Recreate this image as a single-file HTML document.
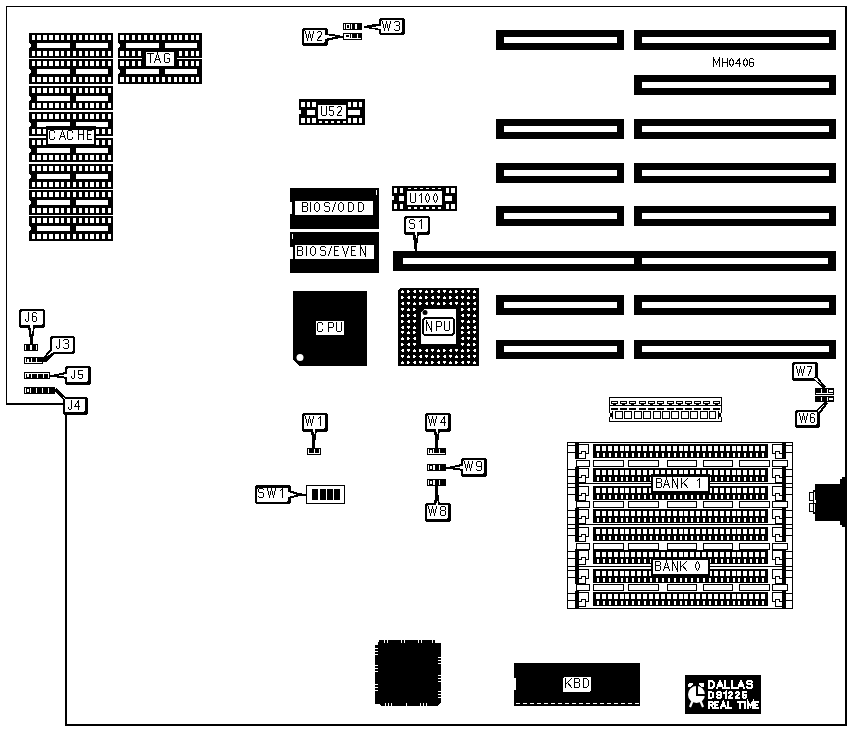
<!DOCTYPE html>
<html><head><meta charset="utf-8"><style>
html,body{margin:0;padding:0;background:#fff;}
svg{display:block;}
</style></head><body>
<svg width="851" height="731" viewBox="0 0 851 731" shape-rendering="crispEdges">
<rect x="0" y="0" width="851" height="731" fill="#fff"/>
<rect x="6" y="6" width="841" height="1" fill="#000"/>
<rect x="845" y="6" width="2" height="720" fill="#000"/>
<rect x="65" y="724" width="782" height="2" fill="#000"/>
<rect x="6" y="6" width="1" height="399" fill="#000"/>
<rect x="6" y="403" width="57" height="2" fill="#000"/>
<rect x="65" y="415" width="2" height="311" fill="#000"/>
<rect x="29" y="33" width="84" height="25" fill="#000"/>
<rect x="32" y="35" width="3" height="5" fill="#fff"/>
<rect x="32" y="51" width="3" height="5" fill="#fff"/>
<rect x="37" y="35" width="4" height="5" fill="#fff"/>
<rect x="37" y="51" width="4" height="5" fill="#fff"/>
<rect x="43" y="35" width="4" height="5" fill="#fff"/>
<rect x="43" y="51" width="4" height="5" fill="#fff"/>
<rect x="49" y="35" width="4" height="5" fill="#fff"/>
<rect x="49" y="51" width="4" height="5" fill="#fff"/>
<rect x="55" y="35" width="4" height="5" fill="#fff"/>
<rect x="55" y="51" width="4" height="5" fill="#fff"/>
<rect x="61" y="35" width="3" height="5" fill="#fff"/>
<rect x="61" y="51" width="3" height="5" fill="#fff"/>
<rect x="67" y="35" width="3" height="5" fill="#fff"/>
<rect x="67" y="51" width="3" height="5" fill="#fff"/>
<rect x="73" y="35" width="3" height="5" fill="#fff"/>
<rect x="73" y="51" width="3" height="5" fill="#fff"/>
<rect x="79" y="35" width="3" height="5" fill="#fff"/>
<rect x="79" y="51" width="3" height="5" fill="#fff"/>
<rect x="85" y="35" width="3" height="5" fill="#fff"/>
<rect x="85" y="51" width="3" height="5" fill="#fff"/>
<rect x="90" y="35" width="4" height="5" fill="#fff"/>
<rect x="90" y="51" width="4" height="5" fill="#fff"/>
<rect x="96" y="35" width="3" height="5" fill="#fff"/>
<rect x="96" y="51" width="3" height="5" fill="#fff"/>
<rect x="102" y="35" width="3" height="5" fill="#fff"/>
<rect x="102" y="51" width="3" height="5" fill="#fff"/>
<rect x="108" y="35" width="3" height="5" fill="#fff"/>
<rect x="108" y="51" width="3" height="5" fill="#fff"/>
<rect x="37" y="43" width="33" height="5" fill="#fff"/>
<rect x="76" y="43" width="32" height="5" fill="#fff"/>
<rect x="29" y="43" width="1" height="5" fill="#fff"/>
<rect x="30" y="44" width="1" height="3" fill="#fff"/>
<rect x="29" y="59" width="84" height="25" fill="#000"/>
<rect x="32" y="61" width="3" height="5" fill="#fff"/>
<rect x="32" y="77" width="3" height="5" fill="#fff"/>
<rect x="37" y="61" width="4" height="5" fill="#fff"/>
<rect x="37" y="77" width="4" height="5" fill="#fff"/>
<rect x="43" y="61" width="4" height="5" fill="#fff"/>
<rect x="43" y="77" width="4" height="5" fill="#fff"/>
<rect x="49" y="61" width="4" height="5" fill="#fff"/>
<rect x="49" y="77" width="4" height="5" fill="#fff"/>
<rect x="55" y="61" width="4" height="5" fill="#fff"/>
<rect x="55" y="77" width="4" height="5" fill="#fff"/>
<rect x="61" y="61" width="3" height="5" fill="#fff"/>
<rect x="61" y="77" width="3" height="5" fill="#fff"/>
<rect x="67" y="61" width="3" height="5" fill="#fff"/>
<rect x="67" y="77" width="3" height="5" fill="#fff"/>
<rect x="73" y="61" width="3" height="5" fill="#fff"/>
<rect x="73" y="77" width="3" height="5" fill="#fff"/>
<rect x="79" y="61" width="3" height="5" fill="#fff"/>
<rect x="79" y="77" width="3" height="5" fill="#fff"/>
<rect x="85" y="61" width="3" height="5" fill="#fff"/>
<rect x="85" y="77" width="3" height="5" fill="#fff"/>
<rect x="90" y="61" width="4" height="5" fill="#fff"/>
<rect x="90" y="77" width="4" height="5" fill="#fff"/>
<rect x="96" y="61" width="3" height="5" fill="#fff"/>
<rect x="96" y="77" width="3" height="5" fill="#fff"/>
<rect x="102" y="61" width="3" height="5" fill="#fff"/>
<rect x="102" y="77" width="3" height="5" fill="#fff"/>
<rect x="108" y="61" width="3" height="5" fill="#fff"/>
<rect x="108" y="77" width="3" height="5" fill="#fff"/>
<rect x="37" y="69" width="33" height="5" fill="#fff"/>
<rect x="76" y="69" width="32" height="5" fill="#fff"/>
<rect x="29" y="69" width="1" height="5" fill="#fff"/>
<rect x="30" y="70" width="1" height="3" fill="#fff"/>
<rect x="29" y="86" width="84" height="24" fill="#000"/>
<rect x="32" y="88" width="3" height="5" fill="#fff"/>
<rect x="32" y="103" width="3" height="5" fill="#fff"/>
<rect x="37" y="88" width="4" height="5" fill="#fff"/>
<rect x="37" y="103" width="4" height="5" fill="#fff"/>
<rect x="43" y="88" width="4" height="5" fill="#fff"/>
<rect x="43" y="103" width="4" height="5" fill="#fff"/>
<rect x="49" y="88" width="4" height="5" fill="#fff"/>
<rect x="49" y="103" width="4" height="5" fill="#fff"/>
<rect x="55" y="88" width="4" height="5" fill="#fff"/>
<rect x="55" y="103" width="4" height="5" fill="#fff"/>
<rect x="61" y="88" width="3" height="5" fill="#fff"/>
<rect x="61" y="103" width="3" height="5" fill="#fff"/>
<rect x="67" y="88" width="3" height="5" fill="#fff"/>
<rect x="67" y="103" width="3" height="5" fill="#fff"/>
<rect x="73" y="88" width="3" height="5" fill="#fff"/>
<rect x="73" y="103" width="3" height="5" fill="#fff"/>
<rect x="79" y="88" width="3" height="5" fill="#fff"/>
<rect x="79" y="103" width="3" height="5" fill="#fff"/>
<rect x="85" y="88" width="3" height="5" fill="#fff"/>
<rect x="85" y="103" width="3" height="5" fill="#fff"/>
<rect x="90" y="88" width="4" height="5" fill="#fff"/>
<rect x="90" y="103" width="4" height="5" fill="#fff"/>
<rect x="96" y="88" width="3" height="5" fill="#fff"/>
<rect x="96" y="103" width="3" height="5" fill="#fff"/>
<rect x="102" y="88" width="3" height="5" fill="#fff"/>
<rect x="102" y="103" width="3" height="5" fill="#fff"/>
<rect x="108" y="88" width="3" height="5" fill="#fff"/>
<rect x="108" y="103" width="3" height="5" fill="#fff"/>
<rect x="37" y="96" width="33" height="5" fill="#fff"/>
<rect x="76" y="96" width="32" height="5" fill="#fff"/>
<rect x="29" y="96" width="1" height="5" fill="#fff"/>
<rect x="30" y="97" width="1" height="3" fill="#fff"/>
<rect x="29" y="112" width="84" height="24" fill="#000"/>
<rect x="32" y="114" width="3" height="5" fill="#fff"/>
<rect x="32" y="129" width="3" height="5" fill="#fff"/>
<rect x="37" y="114" width="4" height="5" fill="#fff"/>
<rect x="37" y="129" width="4" height="5" fill="#fff"/>
<rect x="43" y="114" width="4" height="5" fill="#fff"/>
<rect x="43" y="129" width="4" height="5" fill="#fff"/>
<rect x="49" y="114" width="4" height="5" fill="#fff"/>
<rect x="49" y="129" width="4" height="5" fill="#fff"/>
<rect x="55" y="114" width="4" height="5" fill="#fff"/>
<rect x="55" y="129" width="4" height="5" fill="#fff"/>
<rect x="61" y="114" width="3" height="5" fill="#fff"/>
<rect x="61" y="129" width="3" height="5" fill="#fff"/>
<rect x="67" y="114" width="3" height="5" fill="#fff"/>
<rect x="67" y="129" width="3" height="5" fill="#fff"/>
<rect x="73" y="114" width="3" height="5" fill="#fff"/>
<rect x="73" y="129" width="3" height="5" fill="#fff"/>
<rect x="79" y="114" width="3" height="5" fill="#fff"/>
<rect x="79" y="129" width="3" height="5" fill="#fff"/>
<rect x="85" y="114" width="3" height="5" fill="#fff"/>
<rect x="85" y="129" width="3" height="5" fill="#fff"/>
<rect x="90" y="114" width="4" height="5" fill="#fff"/>
<rect x="90" y="129" width="4" height="5" fill="#fff"/>
<rect x="96" y="114" width="3" height="5" fill="#fff"/>
<rect x="96" y="129" width="3" height="5" fill="#fff"/>
<rect x="102" y="114" width="3" height="5" fill="#fff"/>
<rect x="102" y="129" width="3" height="5" fill="#fff"/>
<rect x="108" y="114" width="3" height="5" fill="#fff"/>
<rect x="108" y="129" width="3" height="5" fill="#fff"/>
<rect x="37" y="122" width="33" height="5" fill="#fff"/>
<rect x="76" y="122" width="32" height="5" fill="#fff"/>
<rect x="29" y="122" width="1" height="5" fill="#fff"/>
<rect x="30" y="123" width="1" height="3" fill="#fff"/>
<rect x="29" y="138" width="84" height="24" fill="#000"/>
<rect x="32" y="140" width="3" height="5" fill="#fff"/>
<rect x="32" y="155" width="3" height="5" fill="#fff"/>
<rect x="37" y="140" width="4" height="5" fill="#fff"/>
<rect x="37" y="155" width="4" height="5" fill="#fff"/>
<rect x="43" y="140" width="4" height="5" fill="#fff"/>
<rect x="43" y="155" width="4" height="5" fill="#fff"/>
<rect x="49" y="140" width="4" height="5" fill="#fff"/>
<rect x="49" y="155" width="4" height="5" fill="#fff"/>
<rect x="55" y="140" width="4" height="5" fill="#fff"/>
<rect x="55" y="155" width="4" height="5" fill="#fff"/>
<rect x="61" y="140" width="3" height="5" fill="#fff"/>
<rect x="61" y="155" width="3" height="5" fill="#fff"/>
<rect x="67" y="140" width="3" height="5" fill="#fff"/>
<rect x="67" y="155" width="3" height="5" fill="#fff"/>
<rect x="73" y="140" width="3" height="5" fill="#fff"/>
<rect x="73" y="155" width="3" height="5" fill="#fff"/>
<rect x="79" y="140" width="3" height="5" fill="#fff"/>
<rect x="79" y="155" width="3" height="5" fill="#fff"/>
<rect x="85" y="140" width="3" height="5" fill="#fff"/>
<rect x="85" y="155" width="3" height="5" fill="#fff"/>
<rect x="90" y="140" width="4" height="5" fill="#fff"/>
<rect x="90" y="155" width="4" height="5" fill="#fff"/>
<rect x="96" y="140" width="3" height="5" fill="#fff"/>
<rect x="96" y="155" width="3" height="5" fill="#fff"/>
<rect x="102" y="140" width="3" height="5" fill="#fff"/>
<rect x="102" y="155" width="3" height="5" fill="#fff"/>
<rect x="108" y="140" width="3" height="5" fill="#fff"/>
<rect x="108" y="155" width="3" height="5" fill="#fff"/>
<rect x="37" y="148" width="33" height="5" fill="#fff"/>
<rect x="76" y="148" width="32" height="5" fill="#fff"/>
<rect x="29" y="148" width="1" height="5" fill="#fff"/>
<rect x="30" y="149" width="1" height="3" fill="#fff"/>
<rect x="29" y="164" width="84" height="25" fill="#000"/>
<rect x="32" y="166" width="3" height="5" fill="#fff"/>
<rect x="32" y="182" width="3" height="5" fill="#fff"/>
<rect x="37" y="166" width="4" height="5" fill="#fff"/>
<rect x="37" y="182" width="4" height="5" fill="#fff"/>
<rect x="43" y="166" width="4" height="5" fill="#fff"/>
<rect x="43" y="182" width="4" height="5" fill="#fff"/>
<rect x="49" y="166" width="4" height="5" fill="#fff"/>
<rect x="49" y="182" width="4" height="5" fill="#fff"/>
<rect x="55" y="166" width="4" height="5" fill="#fff"/>
<rect x="55" y="182" width="4" height="5" fill="#fff"/>
<rect x="61" y="166" width="3" height="5" fill="#fff"/>
<rect x="61" y="182" width="3" height="5" fill="#fff"/>
<rect x="67" y="166" width="3" height="5" fill="#fff"/>
<rect x="67" y="182" width="3" height="5" fill="#fff"/>
<rect x="73" y="166" width="3" height="5" fill="#fff"/>
<rect x="73" y="182" width="3" height="5" fill="#fff"/>
<rect x="79" y="166" width="3" height="5" fill="#fff"/>
<rect x="79" y="182" width="3" height="5" fill="#fff"/>
<rect x="85" y="166" width="3" height="5" fill="#fff"/>
<rect x="85" y="182" width="3" height="5" fill="#fff"/>
<rect x="90" y="166" width="4" height="5" fill="#fff"/>
<rect x="90" y="182" width="4" height="5" fill="#fff"/>
<rect x="96" y="166" width="3" height="5" fill="#fff"/>
<rect x="96" y="182" width="3" height="5" fill="#fff"/>
<rect x="102" y="166" width="3" height="5" fill="#fff"/>
<rect x="102" y="182" width="3" height="5" fill="#fff"/>
<rect x="108" y="166" width="3" height="5" fill="#fff"/>
<rect x="108" y="182" width="3" height="5" fill="#fff"/>
<rect x="37" y="174" width="33" height="5" fill="#fff"/>
<rect x="76" y="174" width="32" height="5" fill="#fff"/>
<rect x="29" y="174" width="1" height="5" fill="#fff"/>
<rect x="30" y="175" width="1" height="3" fill="#fff"/>
<rect x="29" y="190" width="84" height="25" fill="#000"/>
<rect x="32" y="192" width="3" height="5" fill="#fff"/>
<rect x="32" y="208" width="3" height="5" fill="#fff"/>
<rect x="37" y="192" width="4" height="5" fill="#fff"/>
<rect x="37" y="208" width="4" height="5" fill="#fff"/>
<rect x="43" y="192" width="4" height="5" fill="#fff"/>
<rect x="43" y="208" width="4" height="5" fill="#fff"/>
<rect x="49" y="192" width="4" height="5" fill="#fff"/>
<rect x="49" y="208" width="4" height="5" fill="#fff"/>
<rect x="55" y="192" width="4" height="5" fill="#fff"/>
<rect x="55" y="208" width="4" height="5" fill="#fff"/>
<rect x="61" y="192" width="3" height="5" fill="#fff"/>
<rect x="61" y="208" width="3" height="5" fill="#fff"/>
<rect x="67" y="192" width="3" height="5" fill="#fff"/>
<rect x="67" y="208" width="3" height="5" fill="#fff"/>
<rect x="73" y="192" width="3" height="5" fill="#fff"/>
<rect x="73" y="208" width="3" height="5" fill="#fff"/>
<rect x="79" y="192" width="3" height="5" fill="#fff"/>
<rect x="79" y="208" width="3" height="5" fill="#fff"/>
<rect x="85" y="192" width="3" height="5" fill="#fff"/>
<rect x="85" y="208" width="3" height="5" fill="#fff"/>
<rect x="90" y="192" width="4" height="5" fill="#fff"/>
<rect x="90" y="208" width="4" height="5" fill="#fff"/>
<rect x="96" y="192" width="3" height="5" fill="#fff"/>
<rect x="96" y="208" width="3" height="5" fill="#fff"/>
<rect x="102" y="192" width="3" height="5" fill="#fff"/>
<rect x="102" y="208" width="3" height="5" fill="#fff"/>
<rect x="108" y="192" width="3" height="5" fill="#fff"/>
<rect x="108" y="208" width="3" height="5" fill="#fff"/>
<rect x="37" y="200" width="33" height="5" fill="#fff"/>
<rect x="76" y="200" width="32" height="5" fill="#fff"/>
<rect x="29" y="200" width="1" height="5" fill="#fff"/>
<rect x="30" y="201" width="1" height="3" fill="#fff"/>
<rect x="29" y="216" width="84" height="25" fill="#000"/>
<rect x="32" y="218" width="3" height="5" fill="#fff"/>
<rect x="32" y="234" width="3" height="5" fill="#fff"/>
<rect x="37" y="218" width="4" height="5" fill="#fff"/>
<rect x="37" y="234" width="4" height="5" fill="#fff"/>
<rect x="43" y="218" width="4" height="5" fill="#fff"/>
<rect x="43" y="234" width="4" height="5" fill="#fff"/>
<rect x="49" y="218" width="4" height="5" fill="#fff"/>
<rect x="49" y="234" width="4" height="5" fill="#fff"/>
<rect x="55" y="218" width="4" height="5" fill="#fff"/>
<rect x="55" y="234" width="4" height="5" fill="#fff"/>
<rect x="61" y="218" width="3" height="5" fill="#fff"/>
<rect x="61" y="234" width="3" height="5" fill="#fff"/>
<rect x="67" y="218" width="3" height="5" fill="#fff"/>
<rect x="67" y="234" width="3" height="5" fill="#fff"/>
<rect x="73" y="218" width="3" height="5" fill="#fff"/>
<rect x="73" y="234" width="3" height="5" fill="#fff"/>
<rect x="79" y="218" width="3" height="5" fill="#fff"/>
<rect x="79" y="234" width="3" height="5" fill="#fff"/>
<rect x="85" y="218" width="3" height="5" fill="#fff"/>
<rect x="85" y="234" width="3" height="5" fill="#fff"/>
<rect x="90" y="218" width="4" height="5" fill="#fff"/>
<rect x="90" y="234" width="4" height="5" fill="#fff"/>
<rect x="96" y="218" width="3" height="5" fill="#fff"/>
<rect x="96" y="234" width="3" height="5" fill="#fff"/>
<rect x="102" y="218" width="3" height="5" fill="#fff"/>
<rect x="102" y="234" width="3" height="5" fill="#fff"/>
<rect x="108" y="218" width="3" height="5" fill="#fff"/>
<rect x="108" y="234" width="3" height="5" fill="#fff"/>
<rect x="37" y="226" width="33" height="5" fill="#fff"/>
<rect x="76" y="226" width="32" height="5" fill="#fff"/>
<rect x="29" y="226" width="1" height="5" fill="#fff"/>
<rect x="30" y="227" width="1" height="3" fill="#fff"/>
<rect x="118" y="33" width="84" height="25" fill="#000"/>
<rect x="120" y="35" width="4" height="5" fill="#fff"/>
<rect x="120" y="51" width="4" height="5" fill="#fff"/>
<rect x="126" y="35" width="3" height="5" fill="#fff"/>
<rect x="126" y="51" width="3" height="5" fill="#fff"/>
<rect x="132" y="35" width="3" height="5" fill="#fff"/>
<rect x="132" y="51" width="3" height="5" fill="#fff"/>
<rect x="138" y="35" width="3" height="5" fill="#fff"/>
<rect x="138" y="51" width="3" height="5" fill="#fff"/>
<rect x="144" y="35" width="3" height="5" fill="#fff"/>
<rect x="144" y="51" width="3" height="5" fill="#fff"/>
<rect x="150" y="35" width="3" height="5" fill="#fff"/>
<rect x="150" y="51" width="3" height="5" fill="#fff"/>
<rect x="156" y="35" width="3" height="5" fill="#fff"/>
<rect x="156" y="51" width="3" height="5" fill="#fff"/>
<rect x="162" y="35" width="3" height="5" fill="#fff"/>
<rect x="162" y="51" width="3" height="5" fill="#fff"/>
<rect x="168" y="35" width="3" height="5" fill="#fff"/>
<rect x="168" y="51" width="3" height="5" fill="#fff"/>
<rect x="174" y="35" width="3" height="5" fill="#fff"/>
<rect x="174" y="51" width="3" height="5" fill="#fff"/>
<rect x="179" y="35" width="3" height="5" fill="#fff"/>
<rect x="179" y="51" width="3" height="5" fill="#fff"/>
<rect x="185" y="35" width="3" height="5" fill="#fff"/>
<rect x="185" y="51" width="3" height="5" fill="#fff"/>
<rect x="191" y="35" width="3" height="5" fill="#fff"/>
<rect x="191" y="51" width="3" height="5" fill="#fff"/>
<rect x="196" y="35" width="3" height="5" fill="#fff"/>
<rect x="196" y="51" width="3" height="5" fill="#fff"/>
<rect x="126" y="43" width="33" height="5" fill="#fff"/>
<rect x="165" y="43" width="32" height="5" fill="#fff"/>
<rect x="118" y="43" width="1" height="5" fill="#fff"/>
<rect x="119" y="44" width="1" height="3" fill="#fff"/>
<rect x="118" y="59" width="84" height="25" fill="#000"/>
<rect x="120" y="61" width="4" height="5" fill="#fff"/>
<rect x="120" y="77" width="4" height="5" fill="#fff"/>
<rect x="126" y="61" width="3" height="5" fill="#fff"/>
<rect x="126" y="77" width="3" height="5" fill="#fff"/>
<rect x="132" y="61" width="3" height="5" fill="#fff"/>
<rect x="132" y="77" width="3" height="5" fill="#fff"/>
<rect x="138" y="61" width="3" height="5" fill="#fff"/>
<rect x="138" y="77" width="3" height="5" fill="#fff"/>
<rect x="144" y="61" width="3" height="5" fill="#fff"/>
<rect x="144" y="77" width="3" height="5" fill="#fff"/>
<rect x="150" y="61" width="3" height="5" fill="#fff"/>
<rect x="150" y="77" width="3" height="5" fill="#fff"/>
<rect x="156" y="61" width="3" height="5" fill="#fff"/>
<rect x="156" y="77" width="3" height="5" fill="#fff"/>
<rect x="162" y="61" width="3" height="5" fill="#fff"/>
<rect x="162" y="77" width="3" height="5" fill="#fff"/>
<rect x="168" y="61" width="3" height="5" fill="#fff"/>
<rect x="168" y="77" width="3" height="5" fill="#fff"/>
<rect x="174" y="61" width="3" height="5" fill="#fff"/>
<rect x="174" y="77" width="3" height="5" fill="#fff"/>
<rect x="179" y="61" width="3" height="5" fill="#fff"/>
<rect x="179" y="77" width="3" height="5" fill="#fff"/>
<rect x="185" y="61" width="3" height="5" fill="#fff"/>
<rect x="185" y="77" width="3" height="5" fill="#fff"/>
<rect x="191" y="61" width="3" height="5" fill="#fff"/>
<rect x="191" y="77" width="3" height="5" fill="#fff"/>
<rect x="196" y="61" width="3" height="5" fill="#fff"/>
<rect x="196" y="77" width="3" height="5" fill="#fff"/>
<rect x="126" y="69" width="33" height="5" fill="#fff"/>
<rect x="165" y="69" width="32" height="5" fill="#fff"/>
<rect x="118" y="69" width="1" height="5" fill="#fff"/>
<rect x="119" y="70" width="1" height="3" fill="#fff"/>
<rect x="142" y="50" width="35" height="18" fill="#000"/>
<rect x="146" y="52" width="28" height="14" fill="#fff"/>
<path d="M147.50,53.50 H153.50 M150.50,53.50 V62.50 M154.50,62.50 L157.50,53.50 L160.50,62.50 M155.50,59.50 H159.50 M169.50,54.50 L168.50,53.50 H165.50 L164.50,54.50 V61.50 L165.50,62.50 H168.50 L169.50,61.50 V58.50 H167.50" fill="none" stroke="#000" stroke-width="1" stroke-linecap="square" stroke-linejoin="miter"/>
<rect x="46" y="126" width="50" height="21" fill="#000"/>
<rect x="48" y="130" width="46" height="14" fill="#fff"/>
<path d="M54.50,132.50 V131.50 L53.50,130.50 H50.50 L49.50,131.50 V138.50 L50.50,139.50 H53.50 L54.50,138.50 V137.50 M59.50,139.50 L62.50,130.50 L65.50,139.50 M60.50,136.50 H64.50 M72.50,132.50 V131.50 L71.50,130.50 H68.50 L67.50,131.50 V138.50 L68.50,139.50 H71.50 L72.50,138.50 V137.50 M78.50,130.50 V139.50 M83.50,130.50 V139.50 M78.50,134.50 H83.50 M91.50,130.50 H87.50 V139.50 H91.50 M87.50,134.50 H90.50" fill="none" stroke="#000" stroke-width="1" stroke-linecap="square" stroke-linejoin="miter"/>
<rect x="299" y="99" width="66" height="26" fill="#000"/>
<rect x="301" y="102" width="4" height="5" fill="#fff"/>
<rect x="301" y="118" width="4" height="5" fill="#fff"/>
<rect x="307" y="102" width="3" height="5" fill="#fff"/>
<rect x="307" y="118" width="3" height="5" fill="#fff"/>
<rect x="312" y="102" width="4" height="5" fill="#fff"/>
<rect x="312" y="118" width="4" height="5" fill="#fff"/>
<rect x="348" y="102" width="3" height="5" fill="#fff"/>
<rect x="348" y="118" width="3" height="5" fill="#fff"/>
<rect x="353" y="102" width="4" height="5" fill="#fff"/>
<rect x="353" y="118" width="4" height="5" fill="#fff"/>
<rect x="359" y="102" width="3" height="5" fill="#fff"/>
<rect x="359" y="118" width="3" height="5" fill="#fff"/>
<rect x="307" y="110" width="8" height="5" fill="#fff"/>
<rect x="348" y="110" width="12" height="5" fill="#fff"/>
<rect x="299" y="110" width="2" height="4" fill="#fff"/>
<rect x="318" y="105" width="28" height="14" fill="#fff"/>
<rect x="319" y="121" width="3" height="2" fill="#fff"/>
<rect x="325" y="121" width="3" height="2" fill="#fff"/>
<rect x="331" y="121" width="3" height="2" fill="#fff"/>
<rect x="337" y="121" width="3" height="2" fill="#fff"/>
<rect x="343" y="121" width="3" height="2" fill="#fff"/>
<path d="M321.50,106.50 V114.50 L322.50,115.50 H325.50 L326.50,114.50 V106.50 M333.50,106.50 H329.50 V110.50 H332.50 L333.50,111.50 V114.50 L332.50,115.50 H330.50 L329.50,114.50 M337.50,107.50 L338.50,106.50 H340.50 L341.50,107.50 V109.50 L337.50,114.50 V115.50 H341.50" fill="none" stroke="#000" stroke-width="1" stroke-linecap="square" stroke-linejoin="miter"/>
<rect x="392" y="186" width="65" height="25" fill="#000"/>
<rect x="394" y="188" width="3" height="5" fill="#fff"/>
<rect x="394" y="204" width="3" height="5" fill="#fff"/>
<rect x="400" y="188" width="3" height="5" fill="#fff"/>
<rect x="400" y="204" width="3" height="5" fill="#fff"/>
<rect x="446" y="188" width="3" height="5" fill="#fff"/>
<rect x="446" y="204" width="3" height="5" fill="#fff"/>
<rect x="451" y="188" width="4" height="5" fill="#fff"/>
<rect x="451" y="204" width="4" height="5" fill="#fff"/>
<rect x="399" y="196" width="5" height="5" fill="#fff"/>
<rect x="445" y="196" width="7" height="5" fill="#fff"/>
<rect x="392" y="196" width="2" height="4" fill="#fff"/>
<rect x="407" y="191" width="35" height="14" fill="#fff"/>
<rect x="408" y="207" width="3" height="2" fill="#fff"/>
<rect x="414" y="207" width="3" height="2" fill="#fff"/>
<rect x="420" y="207" width="3" height="2" fill="#fff"/>
<rect x="426" y="207" width="3" height="2" fill="#fff"/>
<rect x="432" y="207" width="3" height="2" fill="#fff"/>
<rect x="438" y="207" width="3" height="2" fill="#fff"/>
<rect x="408" y="188" width="3" height="1" fill="#fff"/>
<rect x="414" y="188" width="3" height="1" fill="#fff"/>
<rect x="420" y="188" width="3" height="1" fill="#fff"/>
<rect x="426" y="188" width="3" height="1" fill="#fff"/>
<rect x="432" y="188" width="3" height="1" fill="#fff"/>
<rect x="438" y="188" width="3" height="1" fill="#fff"/>
<path d="M410.50,193.50 V201.50 L411.50,202.50 H414.50 L415.50,201.50 V193.50 M419.50,195.50 L421.50,193.50 V202.50 M427.50,193.50 L429.50,196.50 V199.50 L427.50,202.50 L425.50,199.50 V196.50 Z M435.50,193.50 L437.50,196.50 V199.50 L435.50,202.50 L433.50,199.50 V196.50 Z" fill="none" stroke="#000" stroke-width="1" stroke-linecap="square" stroke-linejoin="miter"/>
<rect x="290" y="188" width="89" height="41" fill="#000"/>
<rect x="295" y="201" width="78" height="14" fill="#fff"/>
<rect x="290" y="202" width="2" height="12" fill="#fff"/>
<rect x="376" y="190" width="1" height="5" fill="#fff"/>
<path d="M302.50,202.50 H306.50 L307.50,203.50 V205.50 L306.50,206.50 H302.50 M306.50,206.50 L307.50,207.50 V210.50 L306.50,211.50 H302.50 V202.50 M310.50,202.50 V211.50 M316.50,202.50 H317.50 L319.50,204.50 V209.50 L317.50,211.50 H316.50 L314.50,209.50 V204.50 Z M329.50,203.50 L328.50,202.50 H325.50 L324.50,203.50 V205.50 L325.50,206.50 H328.50 L329.50,207.50 V210.50 L328.50,211.50 H325.50 L324.50,210.50 M332.50,211.50 L335.50,202.50 M340.50,202.50 H341.50 L343.50,204.50 V209.50 L341.50,211.50 H340.50 L338.50,209.50 V204.50 Z M348.50,202.50 H351.50 L353.50,204.50 V209.50 L351.50,211.50 H348.50 Z M358.50,202.50 H361.50 L363.50,204.50 V209.50 L361.50,211.50 H358.50 Z" fill="none" stroke="#000" stroke-width="1" stroke-linecap="square" stroke-linejoin="miter"/>
<rect x="290" y="232" width="89" height="41" fill="#000"/>
<rect x="295" y="245" width="79" height="14" fill="#fff"/>
<rect x="290" y="247" width="3" height="12" fill="#fff"/>
<rect x="292" y="234" width="1" height="5" fill="#fff"/>
<path d="M297.50,246.50 H301.50 L302.50,247.50 V249.50 L301.50,250.50 H297.50 M301.50,250.50 L302.50,251.50 V254.50 L301.50,255.50 H297.50 V246.50 M306.50,246.50 V255.50 M312.50,246.50 H313.50 L315.50,248.50 V253.50 L313.50,255.50 H312.50 L310.50,253.50 V248.50 Z M325.50,247.50 L324.50,246.50 H321.50 L320.50,247.50 V249.50 L321.50,250.50 H324.50 L325.50,251.50 V254.50 L324.50,255.50 H321.50 L320.50,254.50 M328.50,255.50 L331.50,246.50 M338.50,246.50 H334.50 V255.50 H338.50 M334.50,250.50 H337.50 M342.50,246.50 L345.50,255.50 L348.50,246.50 M355.50,246.50 H351.50 V255.50 H355.50 M351.50,250.50 H354.50 M360.50,255.50 V246.50 L365.50,255.50 V246.50" fill="none" stroke="#000" stroke-width="1" stroke-linecap="square" stroke-linejoin="miter"/>
<rect x="496" y="30" width="128" height="20" fill="#000"/>
<rect x="504" y="37" width="113" height="6" fill="#fff"/>
<rect x="496" y="119" width="128" height="20" fill="#000"/>
<rect x="504" y="126" width="113" height="6" fill="#fff"/>
<rect x="496" y="163" width="128" height="20" fill="#000"/>
<rect x="504" y="170" width="113" height="6" fill="#fff"/>
<rect x="496" y="206" width="128" height="20" fill="#000"/>
<rect x="504" y="213" width="113" height="6" fill="#fff"/>
<rect x="496" y="295" width="128" height="20" fill="#000"/>
<rect x="504" y="302" width="113" height="6" fill="#fff"/>
<rect x="496" y="340" width="128" height="19" fill="#000"/>
<rect x="504" y="346" width="113" height="6" fill="#fff"/>
<rect x="634" y="30" width="202" height="20" fill="#000"/>
<rect x="642" y="37" width="187" height="6" fill="#fff"/>
<rect x="634" y="75" width="202" height="20" fill="#000"/>
<rect x="642" y="82" width="187" height="6" fill="#fff"/>
<rect x="634" y="119" width="202" height="20" fill="#000"/>
<rect x="642" y="126" width="187" height="6" fill="#fff"/>
<rect x="634" y="163" width="202" height="20" fill="#000"/>
<rect x="642" y="170" width="187" height="6" fill="#fff"/>
<rect x="634" y="206" width="202" height="20" fill="#000"/>
<rect x="642" y="213" width="187" height="6" fill="#fff"/>
<rect x="634" y="295" width="202" height="20" fill="#000"/>
<rect x="642" y="302" width="187" height="6" fill="#fff"/>
<rect x="634" y="340" width="202" height="19" fill="#000"/>
<rect x="642" y="346" width="187" height="6" fill="#fff"/>
<rect x="393" y="251" width="443" height="20" fill="#000"/>
<rect x="403" y="258" width="231" height="6" fill="#fff"/>
<rect x="642" y="258" width="186" height="6" fill="#fff"/>
<path d="M713.50,66.50 V58.50 L716.50,63.83 L719.50,58.50 V66.50 M722.50,58.50 V66.50 M727.50,58.50 V66.50 M722.50,62.06 H727.50 M731.50,58.50 L733.50,61.17 V63.83 L731.50,66.50 L729.50,63.83 V61.17 Z M739.50,66.50 V58.50 L735.50,63.83 H740.50 M745.50,58.50 L747.50,61.17 V63.83 L745.50,66.50 L743.50,63.83 V61.17 Z M753.50,59.39 L752.50,58.50 H750.50 L749.50,59.39 V65.61 L750.50,66.50 H752.50 L753.50,65.61 V62.94 L752.50,62.06 H749.50" fill="none" stroke="#000" stroke-width="1" stroke-linecap="square" stroke-linejoin="miter"/>
<path d="M293,291 H367 V366 H299 L293,360 Z" fill="#000" />
<circle cx="300" cy="357.5" r="3.5" fill="#fff" shape-rendering="auto"/>
<rect x="316" y="321" width="28" height="14" fill="#fff"/>
<path d="M322.50,324.50 V323.50 L321.50,322.50 H318.50 L317.50,323.50 V330.50 L318.50,331.50 H321.50 L322.50,330.50 V329.50 M328.50,331.50 V322.50 H332.50 L333.50,323.50 V326.50 L332.50,327.50 H328.50 M336.50,322.50 V330.50 L337.50,331.50 H340.50 L341.50,330.50 V322.50" fill="none" stroke="#000" stroke-width="1" stroke-linecap="square" stroke-linejoin="miter"/>
<path d="M400,288 H479 V366 H398 V290 Z" fill="#000" />
<rect x="401" y="290" width="3" height="3" fill="#fff"/>
<rect x="401" y="290" width="1" height="1" fill="#000"/>
<rect x="403" y="290" width="1" height="1" fill="#000"/>
<rect x="401" y="296" width="3" height="3" fill="#fff"/>
<rect x="403" y="296" width="1" height="1" fill="#000"/>
<rect x="403" y="298" width="1" height="1" fill="#000"/>
<rect x="401" y="302" width="3" height="3" fill="#fff"/>
<rect x="401" y="302" width="1" height="1" fill="#000"/>
<rect x="401" y="304" width="1" height="1" fill="#000"/>
<rect x="401" y="308" width="3" height="3" fill="#fff"/>
<rect x="401" y="310" width="1" height="1" fill="#000"/>
<rect x="403" y="310" width="1" height="1" fill="#000"/>
<rect x="401" y="314" width="3" height="3" fill="#fff"/>
<rect x="401" y="314" width="1" height="1" fill="#000"/>
<rect x="403" y="314" width="1" height="1" fill="#000"/>
<rect x="401" y="320" width="3" height="3" fill="#fff"/>
<rect x="403" y="320" width="1" height="1" fill="#000"/>
<rect x="403" y="322" width="1" height="1" fill="#000"/>
<rect x="401" y="326" width="3" height="3" fill="#fff"/>
<rect x="401" y="326" width="1" height="1" fill="#000"/>
<rect x="401" y="328" width="1" height="1" fill="#000"/>
<rect x="401" y="331" width="3" height="3" fill="#fff"/>
<rect x="401" y="333" width="1" height="1" fill="#000"/>
<rect x="403" y="333" width="1" height="1" fill="#000"/>
<rect x="401" y="337" width="3" height="3" fill="#fff"/>
<rect x="401" y="337" width="1" height="1" fill="#000"/>
<rect x="403" y="337" width="1" height="1" fill="#000"/>
<rect x="401" y="343" width="3" height="3" fill="#fff"/>
<rect x="403" y="343" width="1" height="1" fill="#000"/>
<rect x="403" y="345" width="1" height="1" fill="#000"/>
<rect x="401" y="349" width="3" height="3" fill="#fff"/>
<rect x="401" y="349" width="1" height="1" fill="#000"/>
<rect x="401" y="351" width="1" height="1" fill="#000"/>
<rect x="401" y="355" width="3" height="3" fill="#fff"/>
<rect x="401" y="357" width="1" height="1" fill="#000"/>
<rect x="403" y="357" width="1" height="1" fill="#000"/>
<rect x="401" y="361" width="3" height="3" fill="#fff"/>
<rect x="401" y="361" width="1" height="1" fill="#000"/>
<rect x="403" y="361" width="1" height="1" fill="#000"/>
<rect x="407" y="290" width="3" height="3" fill="#fff"/>
<rect x="409" y="290" width="1" height="1" fill="#000"/>
<rect x="409" y="292" width="1" height="1" fill="#000"/>
<rect x="407" y="296" width="3" height="3" fill="#fff"/>
<rect x="407" y="296" width="1" height="1" fill="#000"/>
<rect x="407" y="298" width="1" height="1" fill="#000"/>
<rect x="407" y="302" width="3" height="3" fill="#fff"/>
<rect x="407" y="304" width="1" height="1" fill="#000"/>
<rect x="409" y="304" width="1" height="1" fill="#000"/>
<rect x="407" y="308" width="3" height="3" fill="#fff"/>
<rect x="407" y="308" width="1" height="1" fill="#000"/>
<rect x="409" y="308" width="1" height="1" fill="#000"/>
<rect x="407" y="314" width="3" height="3" fill="#fff"/>
<rect x="409" y="314" width="1" height="1" fill="#000"/>
<rect x="409" y="316" width="1" height="1" fill="#000"/>
<rect x="407" y="320" width="3" height="3" fill="#fff"/>
<rect x="407" y="320" width="1" height="1" fill="#000"/>
<rect x="407" y="322" width="1" height="1" fill="#000"/>
<rect x="407" y="326" width="3" height="3" fill="#fff"/>
<rect x="407" y="328" width="1" height="1" fill="#000"/>
<rect x="409" y="328" width="1" height="1" fill="#000"/>
<rect x="407" y="331" width="3" height="3" fill="#fff"/>
<rect x="407" y="331" width="1" height="1" fill="#000"/>
<rect x="409" y="331" width="1" height="1" fill="#000"/>
<rect x="407" y="337" width="3" height="3" fill="#fff"/>
<rect x="409" y="337" width="1" height="1" fill="#000"/>
<rect x="409" y="339" width="1" height="1" fill="#000"/>
<rect x="407" y="343" width="3" height="3" fill="#fff"/>
<rect x="407" y="343" width="1" height="1" fill="#000"/>
<rect x="407" y="345" width="1" height="1" fill="#000"/>
<rect x="407" y="349" width="3" height="3" fill="#fff"/>
<rect x="407" y="351" width="1" height="1" fill="#000"/>
<rect x="409" y="351" width="1" height="1" fill="#000"/>
<rect x="407" y="355" width="3" height="3" fill="#fff"/>
<rect x="407" y="355" width="1" height="1" fill="#000"/>
<rect x="409" y="355" width="1" height="1" fill="#000"/>
<rect x="407" y="361" width="3" height="3" fill="#fff"/>
<rect x="409" y="361" width="1" height="1" fill="#000"/>
<rect x="409" y="363" width="1" height="1" fill="#000"/>
<rect x="413" y="290" width="3" height="3" fill="#fff"/>
<rect x="413" y="290" width="1" height="1" fill="#000"/>
<rect x="413" y="292" width="1" height="1" fill="#000"/>
<rect x="413" y="296" width="3" height="3" fill="#fff"/>
<rect x="413" y="298" width="1" height="1" fill="#000"/>
<rect x="415" y="298" width="1" height="1" fill="#000"/>
<rect x="413" y="302" width="3" height="3" fill="#fff"/>
<rect x="413" y="302" width="1" height="1" fill="#000"/>
<rect x="415" y="302" width="1" height="1" fill="#000"/>
<rect x="413" y="308" width="3" height="3" fill="#fff"/>
<rect x="415" y="308" width="1" height="1" fill="#000"/>
<rect x="415" y="310" width="1" height="1" fill="#000"/>
<rect x="413" y="314" width="3" height="3" fill="#fff"/>
<rect x="413" y="314" width="1" height="1" fill="#000"/>
<rect x="413" y="316" width="1" height="1" fill="#000"/>
<rect x="413" y="320" width="3" height="3" fill="#fff"/>
<rect x="413" y="322" width="1" height="1" fill="#000"/>
<rect x="415" y="322" width="1" height="1" fill="#000"/>
<rect x="413" y="326" width="3" height="3" fill="#fff"/>
<rect x="413" y="326" width="1" height="1" fill="#000"/>
<rect x="415" y="326" width="1" height="1" fill="#000"/>
<rect x="413" y="331" width="3" height="3" fill="#fff"/>
<rect x="415" y="331" width="1" height="1" fill="#000"/>
<rect x="415" y="333" width="1" height="1" fill="#000"/>
<rect x="413" y="337" width="3" height="3" fill="#fff"/>
<rect x="413" y="337" width="1" height="1" fill="#000"/>
<rect x="413" y="339" width="1" height="1" fill="#000"/>
<rect x="413" y="343" width="3" height="3" fill="#fff"/>
<rect x="413" y="345" width="1" height="1" fill="#000"/>
<rect x="415" y="345" width="1" height="1" fill="#000"/>
<rect x="413" y="349" width="3" height="3" fill="#fff"/>
<rect x="413" y="349" width="1" height="1" fill="#000"/>
<rect x="415" y="349" width="1" height="1" fill="#000"/>
<rect x="413" y="355" width="3" height="3" fill="#fff"/>
<rect x="415" y="355" width="1" height="1" fill="#000"/>
<rect x="415" y="357" width="1" height="1" fill="#000"/>
<rect x="413" y="361" width="3" height="3" fill="#fff"/>
<rect x="413" y="361" width="1" height="1" fill="#000"/>
<rect x="413" y="363" width="1" height="1" fill="#000"/>
<rect x="419" y="290" width="3" height="3" fill="#fff"/>
<rect x="419" y="292" width="1" height="1" fill="#000"/>
<rect x="421" y="292" width="1" height="1" fill="#000"/>
<rect x="419" y="296" width="3" height="3" fill="#fff"/>
<rect x="419" y="296" width="1" height="1" fill="#000"/>
<rect x="421" y="296" width="1" height="1" fill="#000"/>
<rect x="419" y="302" width="3" height="3" fill="#fff"/>
<rect x="421" y="302" width="1" height="1" fill="#000"/>
<rect x="421" y="304" width="1" height="1" fill="#000"/>
<rect x="419" y="349" width="3" height="3" fill="#fff"/>
<rect x="421" y="349" width="1" height="1" fill="#000"/>
<rect x="421" y="351" width="1" height="1" fill="#000"/>
<rect x="419" y="355" width="3" height="3" fill="#fff"/>
<rect x="419" y="355" width="1" height="1" fill="#000"/>
<rect x="419" y="357" width="1" height="1" fill="#000"/>
<rect x="419" y="361" width="3" height="3" fill="#fff"/>
<rect x="419" y="363" width="1" height="1" fill="#000"/>
<rect x="421" y="363" width="1" height="1" fill="#000"/>
<rect x="425" y="290" width="3" height="3" fill="#fff"/>
<rect x="425" y="290" width="1" height="1" fill="#000"/>
<rect x="427" y="290" width="1" height="1" fill="#000"/>
<rect x="425" y="296" width="3" height="3" fill="#fff"/>
<rect x="427" y="296" width="1" height="1" fill="#000"/>
<rect x="427" y="298" width="1" height="1" fill="#000"/>
<rect x="425" y="302" width="3" height="3" fill="#fff"/>
<rect x="425" y="302" width="1" height="1" fill="#000"/>
<rect x="425" y="304" width="1" height="1" fill="#000"/>
<rect x="425" y="349" width="3" height="3" fill="#fff"/>
<rect x="425" y="349" width="1" height="1" fill="#000"/>
<rect x="425" y="351" width="1" height="1" fill="#000"/>
<rect x="425" y="355" width="3" height="3" fill="#fff"/>
<rect x="425" y="357" width="1" height="1" fill="#000"/>
<rect x="427" y="357" width="1" height="1" fill="#000"/>
<rect x="425" y="361" width="3" height="3" fill="#fff"/>
<rect x="425" y="361" width="1" height="1" fill="#000"/>
<rect x="427" y="361" width="1" height="1" fill="#000"/>
<rect x="431" y="290" width="3" height="3" fill="#fff"/>
<rect x="433" y="290" width="1" height="1" fill="#000"/>
<rect x="433" y="292" width="1" height="1" fill="#000"/>
<rect x="431" y="296" width="3" height="3" fill="#fff"/>
<rect x="431" y="296" width="1" height="1" fill="#000"/>
<rect x="431" y="298" width="1" height="1" fill="#000"/>
<rect x="431" y="302" width="3" height="3" fill="#fff"/>
<rect x="431" y="304" width="1" height="1" fill="#000"/>
<rect x="433" y="304" width="1" height="1" fill="#000"/>
<rect x="431" y="349" width="3" height="3" fill="#fff"/>
<rect x="431" y="351" width="1" height="1" fill="#000"/>
<rect x="433" y="351" width="1" height="1" fill="#000"/>
<rect x="431" y="355" width="3" height="3" fill="#fff"/>
<rect x="431" y="355" width="1" height="1" fill="#000"/>
<rect x="433" y="355" width="1" height="1" fill="#000"/>
<rect x="431" y="361" width="3" height="3" fill="#fff"/>
<rect x="433" y="361" width="1" height="1" fill="#000"/>
<rect x="433" y="363" width="1" height="1" fill="#000"/>
<rect x="437" y="290" width="3" height="3" fill="#fff"/>
<rect x="437" y="290" width="1" height="1" fill="#000"/>
<rect x="437" y="292" width="1" height="1" fill="#000"/>
<rect x="437" y="296" width="3" height="3" fill="#fff"/>
<rect x="437" y="298" width="1" height="1" fill="#000"/>
<rect x="439" y="298" width="1" height="1" fill="#000"/>
<rect x="437" y="302" width="3" height="3" fill="#fff"/>
<rect x="437" y="302" width="1" height="1" fill="#000"/>
<rect x="439" y="302" width="1" height="1" fill="#000"/>
<rect x="437" y="349" width="3" height="3" fill="#fff"/>
<rect x="437" y="349" width="1" height="1" fill="#000"/>
<rect x="439" y="349" width="1" height="1" fill="#000"/>
<rect x="437" y="355" width="3" height="3" fill="#fff"/>
<rect x="439" y="355" width="1" height="1" fill="#000"/>
<rect x="439" y="357" width="1" height="1" fill="#000"/>
<rect x="437" y="361" width="3" height="3" fill="#fff"/>
<rect x="437" y="361" width="1" height="1" fill="#000"/>
<rect x="437" y="363" width="1" height="1" fill="#000"/>
<rect x="443" y="290" width="3" height="3" fill="#fff"/>
<rect x="443" y="292" width="1" height="1" fill="#000"/>
<rect x="445" y="292" width="1" height="1" fill="#000"/>
<rect x="443" y="296" width="3" height="3" fill="#fff"/>
<rect x="443" y="296" width="1" height="1" fill="#000"/>
<rect x="445" y="296" width="1" height="1" fill="#000"/>
<rect x="443" y="302" width="3" height="3" fill="#fff"/>
<rect x="445" y="302" width="1" height="1" fill="#000"/>
<rect x="445" y="304" width="1" height="1" fill="#000"/>
<rect x="443" y="349" width="3" height="3" fill="#fff"/>
<rect x="445" y="349" width="1" height="1" fill="#000"/>
<rect x="445" y="351" width="1" height="1" fill="#000"/>
<rect x="443" y="355" width="3" height="3" fill="#fff"/>
<rect x="443" y="355" width="1" height="1" fill="#000"/>
<rect x="443" y="357" width="1" height="1" fill="#000"/>
<rect x="443" y="361" width="3" height="3" fill="#fff"/>
<rect x="443" y="363" width="1" height="1" fill="#000"/>
<rect x="445" y="363" width="1" height="1" fill="#000"/>
<rect x="449" y="290" width="3" height="3" fill="#fff"/>
<rect x="449" y="290" width="1" height="1" fill="#000"/>
<rect x="451" y="290" width="1" height="1" fill="#000"/>
<rect x="449" y="296" width="3" height="3" fill="#fff"/>
<rect x="451" y="296" width="1" height="1" fill="#000"/>
<rect x="451" y="298" width="1" height="1" fill="#000"/>
<rect x="449" y="302" width="3" height="3" fill="#fff"/>
<rect x="449" y="302" width="1" height="1" fill="#000"/>
<rect x="449" y="304" width="1" height="1" fill="#000"/>
<rect x="449" y="349" width="3" height="3" fill="#fff"/>
<rect x="449" y="349" width="1" height="1" fill="#000"/>
<rect x="449" y="351" width="1" height="1" fill="#000"/>
<rect x="449" y="355" width="3" height="3" fill="#fff"/>
<rect x="449" y="357" width="1" height="1" fill="#000"/>
<rect x="451" y="357" width="1" height="1" fill="#000"/>
<rect x="449" y="361" width="3" height="3" fill="#fff"/>
<rect x="449" y="361" width="1" height="1" fill="#000"/>
<rect x="451" y="361" width="1" height="1" fill="#000"/>
<rect x="455" y="290" width="3" height="3" fill="#fff"/>
<rect x="457" y="290" width="1" height="1" fill="#000"/>
<rect x="457" y="292" width="1" height="1" fill="#000"/>
<rect x="455" y="296" width="3" height="3" fill="#fff"/>
<rect x="455" y="296" width="1" height="1" fill="#000"/>
<rect x="455" y="298" width="1" height="1" fill="#000"/>
<rect x="455" y="302" width="3" height="3" fill="#fff"/>
<rect x="455" y="304" width="1" height="1" fill="#000"/>
<rect x="457" y="304" width="1" height="1" fill="#000"/>
<rect x="455" y="349" width="3" height="3" fill="#fff"/>
<rect x="455" y="351" width="1" height="1" fill="#000"/>
<rect x="457" y="351" width="1" height="1" fill="#000"/>
<rect x="455" y="355" width="3" height="3" fill="#fff"/>
<rect x="455" y="355" width="1" height="1" fill="#000"/>
<rect x="457" y="355" width="1" height="1" fill="#000"/>
<rect x="455" y="361" width="3" height="3" fill="#fff"/>
<rect x="457" y="361" width="1" height="1" fill="#000"/>
<rect x="457" y="363" width="1" height="1" fill="#000"/>
<rect x="461" y="290" width="3" height="3" fill="#fff"/>
<rect x="461" y="290" width="1" height="1" fill="#000"/>
<rect x="461" y="292" width="1" height="1" fill="#000"/>
<rect x="461" y="296" width="3" height="3" fill="#fff"/>
<rect x="461" y="298" width="1" height="1" fill="#000"/>
<rect x="463" y="298" width="1" height="1" fill="#000"/>
<rect x="461" y="302" width="3" height="3" fill="#fff"/>
<rect x="461" y="302" width="1" height="1" fill="#000"/>
<rect x="463" y="302" width="1" height="1" fill="#000"/>
<rect x="461" y="308" width="3" height="3" fill="#fff"/>
<rect x="463" y="308" width="1" height="1" fill="#000"/>
<rect x="463" y="310" width="1" height="1" fill="#000"/>
<rect x="461" y="314" width="3" height="3" fill="#fff"/>
<rect x="461" y="314" width="1" height="1" fill="#000"/>
<rect x="461" y="316" width="1" height="1" fill="#000"/>
<rect x="461" y="320" width="3" height="3" fill="#fff"/>
<rect x="461" y="322" width="1" height="1" fill="#000"/>
<rect x="463" y="322" width="1" height="1" fill="#000"/>
<rect x="461" y="326" width="3" height="3" fill="#fff"/>
<rect x="461" y="326" width="1" height="1" fill="#000"/>
<rect x="463" y="326" width="1" height="1" fill="#000"/>
<rect x="461" y="331" width="3" height="3" fill="#fff"/>
<rect x="463" y="331" width="1" height="1" fill="#000"/>
<rect x="463" y="333" width="1" height="1" fill="#000"/>
<rect x="461" y="337" width="3" height="3" fill="#fff"/>
<rect x="461" y="337" width="1" height="1" fill="#000"/>
<rect x="461" y="339" width="1" height="1" fill="#000"/>
<rect x="461" y="343" width="3" height="3" fill="#fff"/>
<rect x="461" y="345" width="1" height="1" fill="#000"/>
<rect x="463" y="345" width="1" height="1" fill="#000"/>
<rect x="461" y="349" width="3" height="3" fill="#fff"/>
<rect x="461" y="349" width="1" height="1" fill="#000"/>
<rect x="463" y="349" width="1" height="1" fill="#000"/>
<rect x="461" y="355" width="3" height="3" fill="#fff"/>
<rect x="463" y="355" width="1" height="1" fill="#000"/>
<rect x="463" y="357" width="1" height="1" fill="#000"/>
<rect x="461" y="361" width="3" height="3" fill="#fff"/>
<rect x="461" y="361" width="1" height="1" fill="#000"/>
<rect x="461" y="363" width="1" height="1" fill="#000"/>
<rect x="467" y="290" width="3" height="3" fill="#fff"/>
<rect x="467" y="292" width="1" height="1" fill="#000"/>
<rect x="469" y="292" width="1" height="1" fill="#000"/>
<rect x="467" y="296" width="3" height="3" fill="#fff"/>
<rect x="467" y="296" width="1" height="1" fill="#000"/>
<rect x="469" y="296" width="1" height="1" fill="#000"/>
<rect x="467" y="302" width="3" height="3" fill="#fff"/>
<rect x="469" y="302" width="1" height="1" fill="#000"/>
<rect x="469" y="304" width="1" height="1" fill="#000"/>
<rect x="467" y="308" width="3" height="3" fill="#fff"/>
<rect x="467" y="308" width="1" height="1" fill="#000"/>
<rect x="467" y="310" width="1" height="1" fill="#000"/>
<rect x="467" y="314" width="3" height="3" fill="#fff"/>
<rect x="467" y="316" width="1" height="1" fill="#000"/>
<rect x="469" y="316" width="1" height="1" fill="#000"/>
<rect x="467" y="320" width="3" height="3" fill="#fff"/>
<rect x="467" y="320" width="1" height="1" fill="#000"/>
<rect x="469" y="320" width="1" height="1" fill="#000"/>
<rect x="467" y="326" width="3" height="3" fill="#fff"/>
<rect x="469" y="326" width="1" height="1" fill="#000"/>
<rect x="469" y="328" width="1" height="1" fill="#000"/>
<rect x="467" y="331" width="3" height="3" fill="#fff"/>
<rect x="467" y="331" width="1" height="1" fill="#000"/>
<rect x="467" y="333" width="1" height="1" fill="#000"/>
<rect x="467" y="337" width="3" height="3" fill="#fff"/>
<rect x="467" y="339" width="1" height="1" fill="#000"/>
<rect x="469" y="339" width="1" height="1" fill="#000"/>
<rect x="467" y="343" width="3" height="3" fill="#fff"/>
<rect x="467" y="343" width="1" height="1" fill="#000"/>
<rect x="469" y="343" width="1" height="1" fill="#000"/>
<rect x="467" y="349" width="3" height="3" fill="#fff"/>
<rect x="469" y="349" width="1" height="1" fill="#000"/>
<rect x="469" y="351" width="1" height="1" fill="#000"/>
<rect x="467" y="355" width="3" height="3" fill="#fff"/>
<rect x="467" y="355" width="1" height="1" fill="#000"/>
<rect x="467" y="357" width="1" height="1" fill="#000"/>
<rect x="467" y="361" width="3" height="3" fill="#fff"/>
<rect x="467" y="363" width="1" height="1" fill="#000"/>
<rect x="469" y="363" width="1" height="1" fill="#000"/>
<rect x="473" y="290" width="3" height="3" fill="#fff"/>
<rect x="473" y="290" width="1" height="1" fill="#000"/>
<rect x="475" y="290" width="1" height="1" fill="#000"/>
<rect x="473" y="296" width="3" height="3" fill="#fff"/>
<rect x="475" y="296" width="1" height="1" fill="#000"/>
<rect x="475" y="298" width="1" height="1" fill="#000"/>
<rect x="473" y="302" width="3" height="3" fill="#fff"/>
<rect x="473" y="302" width="1" height="1" fill="#000"/>
<rect x="473" y="304" width="1" height="1" fill="#000"/>
<rect x="473" y="308" width="3" height="3" fill="#fff"/>
<rect x="473" y="310" width="1" height="1" fill="#000"/>
<rect x="475" y="310" width="1" height="1" fill="#000"/>
<rect x="473" y="314" width="3" height="3" fill="#fff"/>
<rect x="473" y="314" width="1" height="1" fill="#000"/>
<rect x="475" y="314" width="1" height="1" fill="#000"/>
<rect x="473" y="320" width="3" height="3" fill="#fff"/>
<rect x="475" y="320" width="1" height="1" fill="#000"/>
<rect x="475" y="322" width="1" height="1" fill="#000"/>
<rect x="473" y="326" width="3" height="3" fill="#fff"/>
<rect x="473" y="326" width="1" height="1" fill="#000"/>
<rect x="473" y="328" width="1" height="1" fill="#000"/>
<rect x="473" y="331" width="3" height="3" fill="#fff"/>
<rect x="473" y="333" width="1" height="1" fill="#000"/>
<rect x="475" y="333" width="1" height="1" fill="#000"/>
<rect x="473" y="337" width="3" height="3" fill="#fff"/>
<rect x="473" y="337" width="1" height="1" fill="#000"/>
<rect x="475" y="337" width="1" height="1" fill="#000"/>
<rect x="473" y="343" width="3" height="3" fill="#fff"/>
<rect x="475" y="343" width="1" height="1" fill="#000"/>
<rect x="475" y="345" width="1" height="1" fill="#000"/>
<rect x="473" y="349" width="3" height="3" fill="#fff"/>
<rect x="473" y="349" width="1" height="1" fill="#000"/>
<rect x="473" y="351" width="1" height="1" fill="#000"/>
<rect x="473" y="355" width="3" height="3" fill="#fff"/>
<rect x="473" y="357" width="1" height="1" fill="#000"/>
<rect x="475" y="357" width="1" height="1" fill="#000"/>
<rect x="473" y="361" width="3" height="3" fill="#fff"/>
<rect x="473" y="361" width="1" height="1" fill="#000"/>
<rect x="475" y="361" width="1" height="1" fill="#000"/>
<rect x="421" y="309" width="35" height="35" fill="#fff"/>
<path d="M421,309 L424,309 L421,312 Z" fill="#000"/>
<rect x="423" y="318" width="31" height="17" rx="3" fill="none" stroke="#000" stroke-width="2"/>
<circle cx="425" cy="312.5" r="2.5" fill="#000" shape-rendering="auto"/>
<path d="M426.50,330.50 V321.50 L431.50,330.50 V321.50 M436.50,330.50 V321.50 H440.50 L441.50,322.50 V325.50 L440.50,326.50 H436.50 M444.50,321.50 V329.50 L445.50,330.50 H448.50 L449.50,329.50 V321.50" fill="none" stroke="#000" stroke-width="1" stroke-linecap="square" stroke-linejoin="miter"/>
<rect x="343" y="23" width="19" height="7" fill="#000"/>
<rect x="344" y="24" width="1" height="5" fill="#fff"/>
<rect x="346" y="24" width="4" height="1" fill="#fff"/>
<rect x="346" y="28" width="4" height="1" fill="#fff"/>
<rect x="346" y="24" width="1" height="5" fill="#fff"/>
<rect x="349" y="24" width="1" height="5" fill="#fff"/>
<rect x="351" y="24" width="1" height="5" fill="#fff"/>
<rect x="355" y="24" width="2" height="5" fill="#fff"/>
<rect x="343" y="33" width="19" height="7" fill="#000"/>
<rect x="344" y="34" width="1" height="5" fill="#fff"/>
<rect x="344" y="38" width="17" height="1" fill="#fff"/>
<rect x="351" y="34" width="1" height="5" fill="#fff"/>
<rect x="357" y="34" width="1" height="5" fill="#fff"/>
<rect x="345" y="34" width="5" height="1" fill="#fff"/>
<rect x="345" y="37" width="5" height="1" fill="#fff"/>
<rect x="345" y="34" width="1" height="4" fill="#fff"/>
<rect x="349" y="34" width="1" height="4" fill="#fff"/>
<rect x="302" y="28" width="26" height="18" rx="3" fill="#000"/>
<path d="M325,33 L335,34.5 L343,36 L343,37.5 L335,39 L325,41.5 Z" fill="#000"/>
<rect x="304" y="30" width="21" height="13" rx="2" fill="#fff"/>
<path d="M324,34.5 L336,36.7 L324,39 Z" fill="#fff"/>
<path d="M305.50,31.50 L307.50,40.50 L309.50,31.50 L311.50,40.50 L313.50,31.50 M317.50,32.50 L318.50,31.50 H320.50 L321.50,32.50 V34.50 L317.50,39.50 V40.50 H321.50" fill="none" stroke="#000" stroke-width="1" stroke-linecap="square" stroke-linejoin="miter"/>
<rect x="379" y="18" width="26" height="17" rx="3" fill="#000"/>
<path d="M382,23.5 L372,24.5 L364,26 L364,27.5 L372,29 L382,31 Z" fill="#000"/>
<rect x="381" y="20" width="21" height="13" rx="2" fill="#fff"/>
<path d="M383,25.5 L371,27.3 L383,29.5 Z" fill="#fff"/>
<path d="M382.50,21.50 L384.50,30.50 L386.50,21.50 L388.50,30.50 L390.50,21.50 M394.50,22.50 L395.50,21.50 H398.50 L399.50,22.50 V24.50 L398.50,25.50 H396.50 M398.50,25.50 L399.50,26.50 V29.50 L398.50,30.50 H395.50 L394.50,29.50" fill="none" stroke="#000" stroke-width="1" stroke-linecap="square" stroke-linejoin="miter"/>
<rect x="24" y="344" width="14" height="7" fill="#000"/>
<rect x="25" y="345" width="1" height="5" fill="#fff"/>
<rect x="30" y="345" width="1" height="5" fill="#fff"/>
<rect x="31" y="345" width="1" height="5" fill="#fff"/>
<rect x="36" y="345" width="1" height="5" fill="#fff"/>
<rect x="24" y="357" width="19" height="7" fill="#000"/>
<rect x="25" y="358" width="1" height="5" fill="#fff"/>
<rect x="25" y="362" width="17" height="1" fill="#fff"/>
<rect x="31" y="358" width="1" height="5" fill="#fff"/>
<rect x="36" y="358" width="1" height="5" fill="#fff"/>
<rect x="27" y="359" width="2" height="3" fill="#fff"/>
<rect x="24" y="372" width="26" height="7" fill="#000"/>
<rect x="25" y="373" width="1" height="5" fill="#fff"/>
<rect x="25" y="373" width="24" height="1" fill="#fff"/>
<rect x="48" y="373" width="1" height="5" fill="#fff"/>
<rect x="31" y="373" width="1" height="5" fill="#fff"/>
<rect x="37" y="373" width="1" height="5" fill="#fff"/>
<rect x="43" y="373" width="1" height="5" fill="#fff"/>
<rect x="27" y="374" width="2" height="3" fill="#fff"/>
<rect x="24" y="387" width="31" height="7" fill="#000"/>
<rect x="25" y="388" width="1" height="5" fill="#fff"/>
<rect x="30" y="388" width="1" height="5" fill="#fff"/>
<rect x="36" y="388" width="1" height="5" fill="#fff"/>
<rect x="42" y="388" width="1" height="5" fill="#fff"/>
<rect x="48" y="388" width="1" height="5" fill="#fff"/>
<rect x="27" y="389" width="2" height="3" fill="#fff"/>
<rect x="19" y="309" width="26" height="19" rx="3" fill="#000"/>
<path d="M28,326 L30,340 L30.5,344 L32.5,344 L33,340 L35,326 Z" fill="#000"/>
<rect x="21" y="311" width="22" height="14" rx="2" fill="#fff"/>
<path d="M30,325 L31.7,335 L33.5,325 Z" fill="#fff"/>
<path d="M28.50,312.50 V320.50 L27.50,321.50 H26.50 L25.50,320.50 V319.50 M36.50,313.50 L35.50,312.50 H33.50 L32.50,313.50 V320.50 L33.50,321.50 H35.50 L36.50,320.50 V317.50 L35.50,316.50 H32.50" fill="none" stroke="#000" stroke-width="1" stroke-linecap="square" stroke-linejoin="miter"/>
<rect x="50" y="336" width="25" height="18" rx="3" fill="#000"/>
<path d="M50,349 L43,358 L43,362 L46,362 L56,353 Z" fill="#000"/>
<rect x="52" y="338" width="21" height="14" rx="2" fill="#fff"/>
<path d="M52,350.5 L47,356 L54,352 Z" fill="#fff"/>
<path d="M59.50,339.50 V347.50 L58.50,348.50 H57.50 L56.50,347.50 V346.50 M63.50,340.50 L64.50,339.50 H67.50 L68.50,340.50 V342.50 L67.50,343.50 H65.50 M67.50,343.50 L68.50,344.50 V347.50 L67.50,348.50 H64.50 L63.50,347.50" fill="none" stroke="#000" stroke-width="1" stroke-linecap="square" stroke-linejoin="miter"/>
<rect x="65" y="366" width="26" height="19" rx="3" fill="#000"/>
<path d="M67,371.5 L57,374 L50,375 L50,376.5 L57,377.5 L67,379 Z" fill="#000"/>
<rect x="67" y="368" width="21" height="14" rx="2" fill="#fff"/>
<path d="M68,373.5 L58,375.8 L68,377 Z" fill="#fff"/>
<path d="M74.50,370.50 V377.61 L73.50,378.50 H72.50 L71.50,377.61 V376.72 M82.50,370.50 H78.50 V374.06 H81.50 L82.50,374.94 V377.61 L81.50,378.50 H79.50 L78.50,377.61" fill="none" stroke="#000" stroke-width="1" stroke-linecap="square" stroke-linejoin="miter"/>
<rect x="63" y="397" width="25" height="18" rx="3" fill="#000"/>
<path d="M56,388 L67,398 L64,401 L54,391 Z" fill="#000"/>
<rect x="65" y="399" width="20" height="13" rx="2" fill="#fff"/>
<path d="M61,395.5 L66,399 L65,400 Z" fill="#fff"/>
<path d="M71.50,400.50 V408.50 L70.50,409.50 H69.50 L68.50,408.50 V407.50 M78.50,409.50 V400.50 L74.50,406.50 H79.50" fill="none" stroke="#000" stroke-width="1" stroke-linecap="square" stroke-linejoin="miter"/>
<rect x="307" y="448" width="14" height="7" fill="#000"/>
<rect x="308" y="449" width="1" height="5" fill="#fff"/>
<rect x="308" y="453" width="12" height="1" fill="#fff"/>
<rect x="319" y="449" width="1" height="5" fill="#fff"/>
<rect x="314" y="449" width="1" height="5" fill="#fff"/>
<rect x="427" y="448" width="19" height="7" fill="#000"/>
<rect x="428" y="449" width="1" height="5" fill="#fff"/>
<rect x="428" y="453" width="17" height="1" fill="#fff"/>
<rect x="433" y="449" width="1" height="5" fill="#fff"/>
<rect x="439" y="449" width="1" height="5" fill="#fff"/>
<rect x="430" y="450" width="2" height="3" fill="#fff"/>
<rect x="427" y="464" width="19" height="7" fill="#000"/>
<rect x="428" y="465" width="1" height="5" fill="#fff"/>
<rect x="433" y="465" width="1" height="5" fill="#fff"/>
<rect x="434" y="465" width="1" height="5" fill="#fff"/>
<rect x="439" y="465" width="1" height="5" fill="#fff"/>
<rect x="430" y="466" width="2" height="3" fill="#fff"/>
<rect x="427" y="479" width="19" height="7" fill="#000"/>
<rect x="428" y="480" width="1" height="5" fill="#fff"/>
<rect x="433" y="480" width="1" height="5" fill="#fff"/>
<rect x="434" y="480" width="1" height="5" fill="#fff"/>
<rect x="439" y="480" width="1" height="5" fill="#fff"/>
<rect x="430" y="481" width="2" height="3" fill="#fff"/>
<rect x="302" y="413" width="26" height="19" rx="3" fill="#000"/>
<path d="M311,430 L312,440 L312.5,448 L315,448 L315.5,440 L317,430 Z" fill="#000"/>
<rect x="304" y="415" width="21" height="14" rx="2" fill="#fff"/>
<path d="M313,429 L314.2,436 L315.5,429 Z" fill="#fff"/>
<path d="M305.50,416.50 L307.50,425.50 L309.50,416.50 L311.50,425.50 L313.50,416.50 M318.50,418.50 L320.50,416.50 V425.50" fill="none" stroke="#000" stroke-width="1" stroke-linecap="square" stroke-linejoin="miter"/>
<rect x="425" y="413" width="26" height="19" rx="3" fill="#000"/>
<path d="M434,430 L435,440 L435.5,448 L438,448 L438.5,440 L440,430 Z" fill="#000"/>
<rect x="427" y="415" width="21" height="14" rx="2" fill="#fff"/>
<path d="M436,429 L437.2,436 L438.5,429 Z" fill="#fff"/>
<path d="M428.50,416.50 L430.50,425.50 L432.50,416.50 L434.50,425.50 L436.50,416.50 M444.50,425.50 V416.50 L440.50,422.50 H445.50" fill="none" stroke="#000" stroke-width="1" stroke-linecap="square" stroke-linejoin="miter"/>
<rect x="461" y="458" width="26" height="19" rx="3" fill="#000"/>
<path d="M463,463.5 L453,466 L446,467 L446,468.5 L453,469.5 L463,471 Z" fill="#000"/>
<rect x="463" y="460" width="21" height="14" rx="2" fill="#fff"/>
<path d="M464,465.5 L454,467.8 L464,469 Z" fill="#fff"/>
<path d="M464.50,461.50 L466.50,470.50 L468.50,461.50 L470.50,470.50 L472.50,461.50 M476.50,469.50 L477.50,470.50 H480.50 L481.50,469.50 V462.50 L480.50,461.50 H477.50 L476.50,462.50 V465.50 L477.50,466.50 H481.50" fill="none" stroke="#000" stroke-width="1" stroke-linecap="square" stroke-linejoin="miter"/>
<rect x="425" y="503" width="26" height="19" rx="3" fill="#000"/>
<path d="M434,505 L435,495 L435.5,486 L438,486 L438.5,495 L440,505 Z" fill="#000"/>
<rect x="427" y="505" width="21" height="14" rx="2" fill="#fff"/>
<path d="M436,506 L437.2,499 L438.5,506 Z" fill="#fff"/>
<path d="M428.50,506.50 L430.50,515.50 L432.50,506.50 L434.50,515.50 L436.50,506.50 M441.50,506.50 H444.50 L445.50,507.50 V509.50 L444.50,510.50 H441.50 L440.50,509.50 V507.50 Z M441.50,510.50 L440.50,511.50 V514.50 L441.50,515.50 H444.50 L445.50,514.50 V511.50 L444.50,510.50" fill="none" stroke="#000" stroke-width="1" stroke-linecap="square" stroke-linejoin="miter"/>
<rect x="306" y="485" width="39" height="1" fill="#000"/>
<rect x="306" y="503" width="39" height="1" fill="#000"/>
<rect x="306" y="485" width="1" height="19" fill="#000"/>
<rect x="344" y="485" width="1" height="19" fill="#000"/>
<rect x="312" y="489" width="6" height="11" fill="#000"/>
<rect x="320" y="489" width="6" height="11" fill="#000"/>
<rect x="327" y="489" width="6" height="11" fill="#000"/>
<rect x="334" y="489" width="6" height="11" fill="#000"/>
<rect x="255" y="485" width="36" height="19" rx="3" fill="#000"/>
<path d="M289,490 L298,493 L306,494 L306,495.5 L298,496.5 L289,499 Z" fill="#000"/>
<rect x="257" y="488" width="31" height="14" rx="2" fill="#fff"/>
<path d="M288,492 L297,494.8 L288,497 Z" fill="#fff"/>
<path d="M263.50,489.50 L262.50,488.50 H259.50 L258.50,489.50 V491.50 L259.50,492.50 H262.50 L263.50,493.50 V496.50 L262.50,497.50 H259.50 L258.50,496.50 M267.50,488.50 L269.50,497.50 L271.50,488.50 L273.50,497.50 L275.50,488.50 M280.50,490.50 L282.50,488.50 V497.50" fill="none" stroke="#000" stroke-width="1" stroke-linecap="square" stroke-linejoin="miter"/>
<rect x="815" y="388" width="19" height="7" fill="#000"/>
<rect x="821" y="389" width="1" height="4" fill="#fff"/>
<rect x="816" y="393" width="17" height="1" fill="#fff"/>
<rect x="827" y="389" width="1" height="4" fill="#fff"/>
<rect x="829" y="390" width="4" height="2" fill="#fff"/>
<rect x="815" y="396" width="19" height="6" fill="#000"/>
<rect x="821" y="397" width="1" height="4" fill="#fff"/>
<rect x="827" y="397" width="1" height="4" fill="#fff"/>
<rect x="829" y="398" width="4" height="2" fill="#fff"/>
<rect x="792" y="362" width="26" height="19" rx="3" fill="#000"/>
<path d="M813,379 L817,376 L826,387 L823,388 Z" fill="#000"/>
<rect x="794" y="364" width="21" height="14" rx="2" fill="#fff"/>
<path d="M814,378.5 L816,377.5 L823,386.5 Z" fill="#fff"/>
<path d="M796.50,366.50 L798.50,375.50 L800.50,366.50 L802.50,375.50 L804.50,366.50 M807.50,366.50 H811.50 V367.50 L808.50,375.50" fill="none" stroke="#000" stroke-width="1" stroke-linecap="square" stroke-linejoin="miter"/>
<rect x="795" y="410" width="25" height="18" rx="3" fill="#000"/>
<path d="M815,411 L825,402 L828,403 L821,413 Z" fill="#000"/>
<rect x="797" y="412" width="20" height="13" rx="2" fill="#fff"/>
<path d="M817,411 L825,403.5 L819,412 Z" fill="#fff"/>
<path d="M799.50,413.50 L801.50,422.50 L803.50,413.50 L805.50,422.50 L807.50,413.50 M814.50,414.50 L813.50,413.50 H811.50 L810.50,414.50 V421.50 L811.50,422.50 H813.50 L814.50,421.50 V418.50 L813.50,417.50 H810.50" fill="none" stroke="#000" stroke-width="1" stroke-linecap="square" stroke-linejoin="miter"/>
<rect x="404" y="216" width="26" height="19" rx="3" fill="#000"/>
<path d="M413,233 L414,246 L415,251 L416.5,251 L417,246 L419,233 Z" fill="#000"/>
<rect x="406" y="218" width="22" height="14" rx="2" fill="#fff"/>
<path d="M415,232 L416.3,239 L417.5,232 Z" fill="#fff"/>
<path d="M414.50,220.50 L413.50,219.50 H410.50 L409.50,220.50 V222.50 L410.50,223.50 H413.50 L414.50,224.50 V227.50 L413.50,228.50 H410.50 L409.50,227.50 M419.50,221.50 L421.50,219.50 V228.50" fill="none" stroke="#000" stroke-width="1" stroke-linecap="square" stroke-linejoin="miter"/>
<rect x="609" y="397" width="113" height="1" fill="#000"/>
<rect x="609" y="421" width="113" height="1" fill="#000"/>
<rect x="609" y="397" width="1" height="25" fill="#000"/>
<rect x="721" y="397" width="1" height="25" fill="#000"/>
<rect x="610" y="405" width="111" height="1" fill="#000"/>
<rect x="611" y="401" width="7" height="1" fill="#000"/>
<rect x="611" y="403" width="7" height="1" fill="#000"/>
<rect x="611" y="401" width="1" height="3" fill="#000"/>
<rect x="617" y="401" width="1" height="3" fill="#000"/>
<rect x="613" y="404" width="3" height="1" fill="#000"/>
<rect x="611" y="408" width="7" height="2" fill="#000"/>
<rect x="620" y="401" width="7" height="1" fill="#000"/>
<rect x="620" y="403" width="7" height="1" fill="#000"/>
<rect x="620" y="401" width="1" height="3" fill="#000"/>
<rect x="626" y="401" width="1" height="3" fill="#000"/>
<rect x="622" y="404" width="3" height="1" fill="#000"/>
<rect x="620" y="408" width="7" height="2" fill="#000"/>
<rect x="629" y="401" width="7" height="1" fill="#000"/>
<rect x="629" y="403" width="7" height="1" fill="#000"/>
<rect x="629" y="401" width="1" height="3" fill="#000"/>
<rect x="635" y="401" width="1" height="3" fill="#000"/>
<rect x="631" y="404" width="3" height="1" fill="#000"/>
<rect x="629" y="408" width="7" height="2" fill="#000"/>
<rect x="639" y="401" width="7" height="1" fill="#000"/>
<rect x="639" y="403" width="7" height="1" fill="#000"/>
<rect x="639" y="401" width="1" height="3" fill="#000"/>
<rect x="645" y="401" width="1" height="3" fill="#000"/>
<rect x="641" y="404" width="3" height="1" fill="#000"/>
<rect x="639" y="408" width="7" height="2" fill="#000"/>
<rect x="648" y="401" width="7" height="1" fill="#000"/>
<rect x="648" y="403" width="7" height="1" fill="#000"/>
<rect x="648" y="401" width="1" height="3" fill="#000"/>
<rect x="654" y="401" width="1" height="3" fill="#000"/>
<rect x="650" y="404" width="3" height="1" fill="#000"/>
<rect x="648" y="408" width="7" height="2" fill="#000"/>
<rect x="657" y="401" width="7" height="1" fill="#000"/>
<rect x="657" y="403" width="7" height="1" fill="#000"/>
<rect x="657" y="401" width="1" height="3" fill="#000"/>
<rect x="663" y="401" width="1" height="3" fill="#000"/>
<rect x="659" y="404" width="3" height="1" fill="#000"/>
<rect x="657" y="408" width="7" height="2" fill="#000"/>
<rect x="667" y="401" width="7" height="1" fill="#000"/>
<rect x="667" y="403" width="7" height="1" fill="#000"/>
<rect x="667" y="401" width="1" height="3" fill="#000"/>
<rect x="673" y="401" width="1" height="3" fill="#000"/>
<rect x="669" y="404" width="3" height="1" fill="#000"/>
<rect x="667" y="408" width="7" height="2" fill="#000"/>
<rect x="676" y="401" width="7" height="1" fill="#000"/>
<rect x="676" y="403" width="7" height="1" fill="#000"/>
<rect x="676" y="401" width="1" height="3" fill="#000"/>
<rect x="682" y="401" width="1" height="3" fill="#000"/>
<rect x="678" y="404" width="3" height="1" fill="#000"/>
<rect x="676" y="408" width="7" height="2" fill="#000"/>
<rect x="685" y="401" width="7" height="1" fill="#000"/>
<rect x="685" y="403" width="7" height="1" fill="#000"/>
<rect x="685" y="401" width="1" height="3" fill="#000"/>
<rect x="691" y="401" width="1" height="3" fill="#000"/>
<rect x="687" y="404" width="3" height="1" fill="#000"/>
<rect x="685" y="408" width="7" height="2" fill="#000"/>
<rect x="694" y="401" width="7" height="1" fill="#000"/>
<rect x="694" y="403" width="7" height="1" fill="#000"/>
<rect x="694" y="401" width="1" height="3" fill="#000"/>
<rect x="700" y="401" width="1" height="3" fill="#000"/>
<rect x="696" y="404" width="3" height="1" fill="#000"/>
<rect x="694" y="408" width="7" height="2" fill="#000"/>
<rect x="703" y="401" width="7" height="1" fill="#000"/>
<rect x="703" y="403" width="7" height="1" fill="#000"/>
<rect x="703" y="401" width="1" height="3" fill="#000"/>
<rect x="709" y="401" width="1" height="3" fill="#000"/>
<rect x="705" y="404" width="3" height="1" fill="#000"/>
<rect x="703" y="408" width="7" height="2" fill="#000"/>
<rect x="713" y="401" width="7" height="1" fill="#000"/>
<rect x="713" y="403" width="7" height="1" fill="#000"/>
<rect x="713" y="401" width="1" height="3" fill="#000"/>
<rect x="719" y="401" width="1" height="3" fill="#000"/>
<rect x="715" y="404" width="3" height="1" fill="#000"/>
<rect x="713" y="408" width="7" height="2" fill="#000"/>
<rect x="615" y="411" width="8" height="1" fill="#000"/>
<rect x="615" y="418" width="8" height="1" fill="#000"/>
<rect x="615" y="411" width="1" height="8" fill="#000"/>
<rect x="622" y="411" width="1" height="8" fill="#000"/>
<rect x="624" y="411" width="8" height="1" fill="#000"/>
<rect x="624" y="418" width="8" height="1" fill="#000"/>
<rect x="624" y="411" width="1" height="8" fill="#000"/>
<rect x="631" y="411" width="1" height="8" fill="#000"/>
<rect x="634" y="411" width="8" height="1" fill="#000"/>
<rect x="634" y="418" width="8" height="1" fill="#000"/>
<rect x="634" y="411" width="1" height="8" fill="#000"/>
<rect x="641" y="411" width="1" height="8" fill="#000"/>
<rect x="643" y="411" width="8" height="1" fill="#000"/>
<rect x="643" y="418" width="8" height="1" fill="#000"/>
<rect x="643" y="411" width="1" height="8" fill="#000"/>
<rect x="650" y="411" width="1" height="8" fill="#000"/>
<rect x="653" y="411" width="8" height="1" fill="#000"/>
<rect x="653" y="418" width="8" height="1" fill="#000"/>
<rect x="653" y="411" width="1" height="8" fill="#000"/>
<rect x="660" y="411" width="1" height="8" fill="#000"/>
<rect x="662" y="411" width="8" height="1" fill="#000"/>
<rect x="662" y="418" width="8" height="1" fill="#000"/>
<rect x="662" y="411" width="1" height="8" fill="#000"/>
<rect x="669" y="411" width="1" height="8" fill="#000"/>
<rect x="671" y="411" width="8" height="1" fill="#000"/>
<rect x="671" y="418" width="8" height="1" fill="#000"/>
<rect x="671" y="411" width="1" height="8" fill="#000"/>
<rect x="678" y="411" width="1" height="8" fill="#000"/>
<rect x="681" y="411" width="8" height="1" fill="#000"/>
<rect x="681" y="418" width="8" height="1" fill="#000"/>
<rect x="681" y="411" width="1" height="8" fill="#000"/>
<rect x="688" y="411" width="1" height="8" fill="#000"/>
<rect x="690" y="411" width="8" height="1" fill="#000"/>
<rect x="690" y="418" width="8" height="1" fill="#000"/>
<rect x="690" y="411" width="1" height="8" fill="#000"/>
<rect x="697" y="411" width="1" height="8" fill="#000"/>
<rect x="700" y="411" width="8" height="1" fill="#000"/>
<rect x="700" y="418" width="8" height="1" fill="#000"/>
<rect x="700" y="411" width="1" height="8" fill="#000"/>
<rect x="707" y="411" width="1" height="8" fill="#000"/>
<rect x="709" y="411" width="7" height="1" fill="#000"/>
<rect x="709" y="418" width="7" height="1" fill="#000"/>
<rect x="709" y="411" width="1" height="8" fill="#000"/>
<rect x="715" y="411" width="1" height="8" fill="#000"/>
<rect x="612" y="411" width="1" height="8" fill="#000"/>
<rect x="610" y="412" width="2" height="1" fill="#fff"/>
<rect x="610" y="417" width="2" height="1" fill="#fff"/>
<rect x="609" y="413" width="1" height="4" fill="#fff"/>
<rect x="610" y="413" width="2" height="4" fill="#000"/>
<rect x="718" y="411" width="1" height="8" fill="#000"/>
<rect x="719" y="412" width="2" height="1" fill="#fff"/>
<rect x="719" y="417" width="2" height="1" fill="#fff"/>
<rect x="721" y="413" width="1" height="4" fill="#fff"/>
<rect x="719" y="413" width="2" height="4" fill="#000"/>
<rect x="567" y="442" width="226" height="1" fill="#000"/>
<rect x="567" y="608" width="226" height="1" fill="#000"/>
<rect x="567" y="442" width="1" height="167" fill="#000"/>
<rect x="792" y="442" width="1" height="167" fill="#000"/>
<rect x="593" y="444" width="175" height="14" fill="#000"/>
<rect x="596" y="446" width="4" height="5" fill="#fff"/>
<rect x="597" y="453" width="2" height="4" fill="#fff"/>
<rect x="602" y="446" width="4" height="5" fill="#fff"/>
<rect x="603" y="453" width="2" height="4" fill="#fff"/>
<rect x="608" y="446" width="4" height="5" fill="#fff"/>
<rect x="609" y="453" width="2" height="4" fill="#fff"/>
<rect x="614" y="446" width="4" height="5" fill="#fff"/>
<rect x="615" y="453" width="2" height="4" fill="#fff"/>
<rect x="620" y="446" width="4" height="5" fill="#fff"/>
<rect x="621" y="453" width="2" height="4" fill="#fff"/>
<rect x="625" y="446" width="4" height="5" fill="#fff"/>
<rect x="626" y="453" width="2" height="4" fill="#fff"/>
<rect x="631" y="446" width="4" height="5" fill="#fff"/>
<rect x="632" y="453" width="2" height="4" fill="#fff"/>
<rect x="637" y="446" width="4" height="5" fill="#fff"/>
<rect x="638" y="453" width="2" height="4" fill="#fff"/>
<rect x="643" y="446" width="4" height="5" fill="#fff"/>
<rect x="644" y="453" width="2" height="4" fill="#fff"/>
<rect x="649" y="446" width="4" height="5" fill="#fff"/>
<rect x="650" y="453" width="2" height="4" fill="#fff"/>
<rect x="655" y="446" width="4" height="5" fill="#fff"/>
<rect x="656" y="453" width="2" height="4" fill="#fff"/>
<rect x="661" y="446" width="4" height="5" fill="#fff"/>
<rect x="662" y="453" width="2" height="4" fill="#fff"/>
<rect x="667" y="446" width="4" height="5" fill="#fff"/>
<rect x="668" y="453" width="2" height="4" fill="#fff"/>
<rect x="673" y="446" width="4" height="5" fill="#fff"/>
<rect x="674" y="453" width="2" height="4" fill="#fff"/>
<rect x="679" y="446" width="4" height="5" fill="#fff"/>
<rect x="680" y="453" width="2" height="4" fill="#fff"/>
<rect x="684" y="446" width="4" height="5" fill="#fff"/>
<rect x="685" y="453" width="2" height="4" fill="#fff"/>
<rect x="690" y="446" width="4" height="5" fill="#fff"/>
<rect x="691" y="453" width="2" height="4" fill="#fff"/>
<rect x="696" y="446" width="4" height="5" fill="#fff"/>
<rect x="697" y="453" width="2" height="4" fill="#fff"/>
<rect x="702" y="446" width="4" height="5" fill="#fff"/>
<rect x="703" y="453" width="2" height="4" fill="#fff"/>
<rect x="708" y="446" width="4" height="5" fill="#fff"/>
<rect x="709" y="453" width="2" height="4" fill="#fff"/>
<rect x="714" y="446" width="4" height="5" fill="#fff"/>
<rect x="715" y="453" width="2" height="4" fill="#fff"/>
<rect x="720" y="446" width="4" height="5" fill="#fff"/>
<rect x="721" y="453" width="2" height="4" fill="#fff"/>
<rect x="726" y="446" width="4" height="5" fill="#fff"/>
<rect x="727" y="453" width="2" height="4" fill="#fff"/>
<rect x="732" y="446" width="4" height="5" fill="#fff"/>
<rect x="733" y="453" width="2" height="4" fill="#fff"/>
<rect x="737" y="446" width="4" height="5" fill="#fff"/>
<rect x="738" y="453" width="2" height="4" fill="#fff"/>
<rect x="743" y="446" width="4" height="5" fill="#fff"/>
<rect x="744" y="453" width="2" height="4" fill="#fff"/>
<rect x="749" y="446" width="4" height="5" fill="#fff"/>
<rect x="750" y="453" width="2" height="4" fill="#fff"/>
<rect x="755" y="446" width="4" height="5" fill="#fff"/>
<rect x="756" y="453" width="2" height="4" fill="#fff"/>
<rect x="761" y="446" width="4" height="5" fill="#fff"/>
<rect x="762" y="453" width="2" height="4" fill="#fff"/>
<rect x="593" y="468" width="175" height="14" fill="#000"/>
<rect x="596" y="470" width="4" height="5" fill="#fff"/>
<rect x="597" y="477" width="2" height="4" fill="#fff"/>
<rect x="602" y="470" width="4" height="5" fill="#fff"/>
<rect x="603" y="477" width="2" height="4" fill="#fff"/>
<rect x="608" y="470" width="4" height="5" fill="#fff"/>
<rect x="609" y="477" width="2" height="4" fill="#fff"/>
<rect x="614" y="470" width="4" height="5" fill="#fff"/>
<rect x="615" y="477" width="2" height="4" fill="#fff"/>
<rect x="620" y="470" width="4" height="5" fill="#fff"/>
<rect x="621" y="477" width="2" height="4" fill="#fff"/>
<rect x="625" y="470" width="4" height="5" fill="#fff"/>
<rect x="626" y="477" width="2" height="4" fill="#fff"/>
<rect x="631" y="470" width="4" height="5" fill="#fff"/>
<rect x="632" y="477" width="2" height="4" fill="#fff"/>
<rect x="637" y="470" width="4" height="5" fill="#fff"/>
<rect x="638" y="477" width="2" height="4" fill="#fff"/>
<rect x="643" y="470" width="4" height="5" fill="#fff"/>
<rect x="644" y="477" width="2" height="4" fill="#fff"/>
<rect x="649" y="470" width="4" height="5" fill="#fff"/>
<rect x="650" y="477" width="2" height="4" fill="#fff"/>
<rect x="655" y="470" width="4" height="5" fill="#fff"/>
<rect x="656" y="477" width="2" height="4" fill="#fff"/>
<rect x="661" y="470" width="4" height="5" fill="#fff"/>
<rect x="662" y="477" width="2" height="4" fill="#fff"/>
<rect x="667" y="470" width="4" height="5" fill="#fff"/>
<rect x="668" y="477" width="2" height="4" fill="#fff"/>
<rect x="673" y="470" width="4" height="5" fill="#fff"/>
<rect x="674" y="477" width="2" height="4" fill="#fff"/>
<rect x="679" y="470" width="4" height="5" fill="#fff"/>
<rect x="680" y="477" width="2" height="4" fill="#fff"/>
<rect x="684" y="470" width="4" height="5" fill="#fff"/>
<rect x="685" y="477" width="2" height="4" fill="#fff"/>
<rect x="690" y="470" width="4" height="5" fill="#fff"/>
<rect x="691" y="477" width="2" height="4" fill="#fff"/>
<rect x="696" y="470" width="4" height="5" fill="#fff"/>
<rect x="697" y="477" width="2" height="4" fill="#fff"/>
<rect x="702" y="470" width="4" height="5" fill="#fff"/>
<rect x="703" y="477" width="2" height="4" fill="#fff"/>
<rect x="708" y="470" width="4" height="5" fill="#fff"/>
<rect x="709" y="477" width="2" height="4" fill="#fff"/>
<rect x="714" y="470" width="4" height="5" fill="#fff"/>
<rect x="715" y="477" width="2" height="4" fill="#fff"/>
<rect x="720" y="470" width="4" height="5" fill="#fff"/>
<rect x="721" y="477" width="2" height="4" fill="#fff"/>
<rect x="726" y="470" width="4" height="5" fill="#fff"/>
<rect x="727" y="477" width="2" height="4" fill="#fff"/>
<rect x="732" y="470" width="4" height="5" fill="#fff"/>
<rect x="733" y="477" width="2" height="4" fill="#fff"/>
<rect x="737" y="470" width="4" height="5" fill="#fff"/>
<rect x="738" y="477" width="2" height="4" fill="#fff"/>
<rect x="743" y="470" width="4" height="5" fill="#fff"/>
<rect x="744" y="477" width="2" height="4" fill="#fff"/>
<rect x="749" y="470" width="4" height="5" fill="#fff"/>
<rect x="750" y="477" width="2" height="4" fill="#fff"/>
<rect x="755" y="470" width="4" height="5" fill="#fff"/>
<rect x="756" y="477" width="2" height="4" fill="#fff"/>
<rect x="761" y="470" width="4" height="5" fill="#fff"/>
<rect x="762" y="477" width="2" height="4" fill="#fff"/>
<rect x="576" y="460" width="14" height="1" fill="#000"/>
<rect x="576" y="466" width="14" height="1" fill="#000"/>
<rect x="576" y="460" width="1" height="7" fill="#000"/>
<rect x="589" y="460" width="1" height="7" fill="#000"/>
<rect x="593" y="460" width="31" height="1" fill="#000"/>
<rect x="593" y="466" width="31" height="1" fill="#000"/>
<rect x="593" y="460" width="1" height="7" fill="#000"/>
<rect x="623" y="460" width="1" height="7" fill="#000"/>
<rect x="628" y="460" width="31" height="1" fill="#000"/>
<rect x="628" y="466" width="31" height="1" fill="#000"/>
<rect x="628" y="460" width="1" height="7" fill="#000"/>
<rect x="658" y="460" width="1" height="7" fill="#000"/>
<rect x="667" y="460" width="30" height="1" fill="#000"/>
<rect x="667" y="466" width="30" height="1" fill="#000"/>
<rect x="667" y="460" width="1" height="7" fill="#000"/>
<rect x="696" y="460" width="1" height="7" fill="#000"/>
<rect x="703" y="460" width="30" height="1" fill="#000"/>
<rect x="703" y="466" width="30" height="1" fill="#000"/>
<rect x="703" y="460" width="1" height="7" fill="#000"/>
<rect x="732" y="460" width="1" height="7" fill="#000"/>
<rect x="739" y="460" width="31" height="1" fill="#000"/>
<rect x="739" y="466" width="31" height="1" fill="#000"/>
<rect x="739" y="460" width="1" height="7" fill="#000"/>
<rect x="769" y="460" width="1" height="7" fill="#000"/>
<rect x="772" y="460" width="16" height="1" fill="#000"/>
<rect x="772" y="466" width="16" height="1" fill="#000"/>
<rect x="772" y="460" width="1" height="7" fill="#000"/>
<rect x="787" y="460" width="1" height="7" fill="#000"/>
<rect x="575" y="442" width="4" height="17" fill="#000"/>
<rect x="575" y="467" width="4" height="17" fill="#000"/>
<rect x="782" y="442" width="4" height="17" fill="#000"/>
<rect x="782" y="467" width="4" height="17" fill="#000"/>
<rect x="579" y="444" width="10" height="1" fill="#000"/>
<rect x="772" y="444" width="10" height="1" fill="#000"/>
<rect x="588" y="444" width="1" height="10" fill="#000"/>
<rect x="772" y="444" width="1" height="10" fill="#000"/>
<rect x="586" y="453" width="3" height="1" fill="#000"/>
<rect x="772" y="453" width="3" height="1" fill="#000"/>
<rect x="585" y="451" width="1" height="8" fill="#000"/>
<rect x="775" y="451" width="1" height="8" fill="#000"/>
<rect x="579" y="458" width="7" height="1" fill="#000"/>
<rect x="775" y="458" width="7" height="1" fill="#000"/>
<rect x="581" y="451" width="5" height="1" fill="#000"/>
<rect x="775" y="451" width="5" height="1" fill="#000"/>
<rect x="581" y="451" width="1" height="3" fill="#000"/>
<rect x="779" y="451" width="1" height="3" fill="#000"/>
<rect x="579" y="453" width="3" height="1" fill="#000"/>
<rect x="779" y="453" width="3" height="1" fill="#000"/>
<rect x="579" y="468" width="10" height="1" fill="#000"/>
<rect x="772" y="468" width="10" height="1" fill="#000"/>
<rect x="588" y="468" width="1" height="10" fill="#000"/>
<rect x="772" y="468" width="1" height="10" fill="#000"/>
<rect x="586" y="477" width="3" height="1" fill="#000"/>
<rect x="772" y="477" width="3" height="1" fill="#000"/>
<rect x="585" y="475" width="1" height="8" fill="#000"/>
<rect x="775" y="475" width="1" height="8" fill="#000"/>
<rect x="579" y="482" width="7" height="1" fill="#000"/>
<rect x="775" y="482" width="7" height="1" fill="#000"/>
<rect x="581" y="475" width="5" height="1" fill="#000"/>
<rect x="775" y="475" width="5" height="1" fill="#000"/>
<rect x="581" y="475" width="1" height="3" fill="#000"/>
<rect x="779" y="475" width="1" height="3" fill="#000"/>
<rect x="579" y="477" width="3" height="1" fill="#000"/>
<rect x="779" y="477" width="3" height="1" fill="#000"/>
<rect x="579" y="483" width="203" height="1" fill="#000"/>
<rect x="568" y="445" width="7" height="1" fill="#000"/>
<rect x="786" y="445" width="6" height="1" fill="#000"/>
<rect x="568" y="452" width="7" height="1" fill="#000"/>
<rect x="786" y="452" width="6" height="1" fill="#000"/>
<rect x="568" y="469" width="7" height="1" fill="#000"/>
<rect x="786" y="469" width="6" height="1" fill="#000"/>
<rect x="568" y="476" width="7" height="1" fill="#000"/>
<rect x="786" y="476" width="6" height="1" fill="#000"/>
<rect x="568" y="483" width="7" height="1" fill="#000"/>
<rect x="786" y="483" width="6" height="1" fill="#000"/>
<rect x="593" y="486" width="175" height="14" fill="#000"/>
<rect x="596" y="488" width="4" height="5" fill="#fff"/>
<rect x="597" y="495" width="2" height="4" fill="#fff"/>
<rect x="602" y="488" width="4" height="5" fill="#fff"/>
<rect x="603" y="495" width="2" height="4" fill="#fff"/>
<rect x="608" y="488" width="4" height="5" fill="#fff"/>
<rect x="609" y="495" width="2" height="4" fill="#fff"/>
<rect x="614" y="488" width="4" height="5" fill="#fff"/>
<rect x="615" y="495" width="2" height="4" fill="#fff"/>
<rect x="620" y="488" width="4" height="5" fill="#fff"/>
<rect x="621" y="495" width="2" height="4" fill="#fff"/>
<rect x="625" y="488" width="4" height="5" fill="#fff"/>
<rect x="626" y="495" width="2" height="4" fill="#fff"/>
<rect x="631" y="488" width="4" height="5" fill="#fff"/>
<rect x="632" y="495" width="2" height="4" fill="#fff"/>
<rect x="637" y="488" width="4" height="5" fill="#fff"/>
<rect x="638" y="495" width="2" height="4" fill="#fff"/>
<rect x="643" y="488" width="4" height="5" fill="#fff"/>
<rect x="644" y="495" width="2" height="4" fill="#fff"/>
<rect x="649" y="488" width="4" height="5" fill="#fff"/>
<rect x="650" y="495" width="2" height="4" fill="#fff"/>
<rect x="655" y="488" width="4" height="5" fill="#fff"/>
<rect x="656" y="495" width="2" height="4" fill="#fff"/>
<rect x="661" y="488" width="4" height="5" fill="#fff"/>
<rect x="662" y="495" width="2" height="4" fill="#fff"/>
<rect x="667" y="488" width="4" height="5" fill="#fff"/>
<rect x="668" y="495" width="2" height="4" fill="#fff"/>
<rect x="673" y="488" width="4" height="5" fill="#fff"/>
<rect x="674" y="495" width="2" height="4" fill="#fff"/>
<rect x="679" y="488" width="4" height="5" fill="#fff"/>
<rect x="680" y="495" width="2" height="4" fill="#fff"/>
<rect x="684" y="488" width="4" height="5" fill="#fff"/>
<rect x="685" y="495" width="2" height="4" fill="#fff"/>
<rect x="690" y="488" width="4" height="5" fill="#fff"/>
<rect x="691" y="495" width="2" height="4" fill="#fff"/>
<rect x="696" y="488" width="4" height="5" fill="#fff"/>
<rect x="697" y="495" width="2" height="4" fill="#fff"/>
<rect x="702" y="488" width="4" height="5" fill="#fff"/>
<rect x="703" y="495" width="2" height="4" fill="#fff"/>
<rect x="708" y="488" width="4" height="5" fill="#fff"/>
<rect x="709" y="495" width="2" height="4" fill="#fff"/>
<rect x="714" y="488" width="4" height="5" fill="#fff"/>
<rect x="715" y="495" width="2" height="4" fill="#fff"/>
<rect x="720" y="488" width="4" height="5" fill="#fff"/>
<rect x="721" y="495" width="2" height="4" fill="#fff"/>
<rect x="726" y="488" width="4" height="5" fill="#fff"/>
<rect x="727" y="495" width="2" height="4" fill="#fff"/>
<rect x="732" y="488" width="4" height="5" fill="#fff"/>
<rect x="733" y="495" width="2" height="4" fill="#fff"/>
<rect x="737" y="488" width="4" height="5" fill="#fff"/>
<rect x="738" y="495" width="2" height="4" fill="#fff"/>
<rect x="743" y="488" width="4" height="5" fill="#fff"/>
<rect x="744" y="495" width="2" height="4" fill="#fff"/>
<rect x="749" y="488" width="4" height="5" fill="#fff"/>
<rect x="750" y="495" width="2" height="4" fill="#fff"/>
<rect x="755" y="488" width="4" height="5" fill="#fff"/>
<rect x="756" y="495" width="2" height="4" fill="#fff"/>
<rect x="761" y="488" width="4" height="5" fill="#fff"/>
<rect x="762" y="495" width="2" height="4" fill="#fff"/>
<rect x="593" y="509" width="175" height="14" fill="#000"/>
<rect x="596" y="511" width="4" height="5" fill="#fff"/>
<rect x="597" y="518" width="2" height="4" fill="#fff"/>
<rect x="602" y="511" width="4" height="5" fill="#fff"/>
<rect x="603" y="518" width="2" height="4" fill="#fff"/>
<rect x="608" y="511" width="4" height="5" fill="#fff"/>
<rect x="609" y="518" width="2" height="4" fill="#fff"/>
<rect x="614" y="511" width="4" height="5" fill="#fff"/>
<rect x="615" y="518" width="2" height="4" fill="#fff"/>
<rect x="620" y="511" width="4" height="5" fill="#fff"/>
<rect x="621" y="518" width="2" height="4" fill="#fff"/>
<rect x="625" y="511" width="4" height="5" fill="#fff"/>
<rect x="626" y="518" width="2" height="4" fill="#fff"/>
<rect x="631" y="511" width="4" height="5" fill="#fff"/>
<rect x="632" y="518" width="2" height="4" fill="#fff"/>
<rect x="637" y="511" width="4" height="5" fill="#fff"/>
<rect x="638" y="518" width="2" height="4" fill="#fff"/>
<rect x="643" y="511" width="4" height="5" fill="#fff"/>
<rect x="644" y="518" width="2" height="4" fill="#fff"/>
<rect x="649" y="511" width="4" height="5" fill="#fff"/>
<rect x="650" y="518" width="2" height="4" fill="#fff"/>
<rect x="655" y="511" width="4" height="5" fill="#fff"/>
<rect x="656" y="518" width="2" height="4" fill="#fff"/>
<rect x="661" y="511" width="4" height="5" fill="#fff"/>
<rect x="662" y="518" width="2" height="4" fill="#fff"/>
<rect x="667" y="511" width="4" height="5" fill="#fff"/>
<rect x="668" y="518" width="2" height="4" fill="#fff"/>
<rect x="673" y="511" width="4" height="5" fill="#fff"/>
<rect x="674" y="518" width="2" height="4" fill="#fff"/>
<rect x="679" y="511" width="4" height="5" fill="#fff"/>
<rect x="680" y="518" width="2" height="4" fill="#fff"/>
<rect x="684" y="511" width="4" height="5" fill="#fff"/>
<rect x="685" y="518" width="2" height="4" fill="#fff"/>
<rect x="690" y="511" width="4" height="5" fill="#fff"/>
<rect x="691" y="518" width="2" height="4" fill="#fff"/>
<rect x="696" y="511" width="4" height="5" fill="#fff"/>
<rect x="697" y="518" width="2" height="4" fill="#fff"/>
<rect x="702" y="511" width="4" height="5" fill="#fff"/>
<rect x="703" y="518" width="2" height="4" fill="#fff"/>
<rect x="708" y="511" width="4" height="5" fill="#fff"/>
<rect x="709" y="518" width="2" height="4" fill="#fff"/>
<rect x="714" y="511" width="4" height="5" fill="#fff"/>
<rect x="715" y="518" width="2" height="4" fill="#fff"/>
<rect x="720" y="511" width="4" height="5" fill="#fff"/>
<rect x="721" y="518" width="2" height="4" fill="#fff"/>
<rect x="726" y="511" width="4" height="5" fill="#fff"/>
<rect x="727" y="518" width="2" height="4" fill="#fff"/>
<rect x="732" y="511" width="4" height="5" fill="#fff"/>
<rect x="733" y="518" width="2" height="4" fill="#fff"/>
<rect x="737" y="511" width="4" height="5" fill="#fff"/>
<rect x="738" y="518" width="2" height="4" fill="#fff"/>
<rect x="743" y="511" width="4" height="5" fill="#fff"/>
<rect x="744" y="518" width="2" height="4" fill="#fff"/>
<rect x="749" y="511" width="4" height="5" fill="#fff"/>
<rect x="750" y="518" width="2" height="4" fill="#fff"/>
<rect x="755" y="511" width="4" height="5" fill="#fff"/>
<rect x="756" y="518" width="2" height="4" fill="#fff"/>
<rect x="761" y="511" width="4" height="5" fill="#fff"/>
<rect x="762" y="518" width="2" height="4" fill="#fff"/>
<rect x="576" y="501" width="14" height="1" fill="#000"/>
<rect x="576" y="507" width="14" height="1" fill="#000"/>
<rect x="576" y="501" width="1" height="7" fill="#000"/>
<rect x="589" y="501" width="1" height="7" fill="#000"/>
<rect x="593" y="501" width="31" height="1" fill="#000"/>
<rect x="593" y="507" width="31" height="1" fill="#000"/>
<rect x="593" y="501" width="1" height="7" fill="#000"/>
<rect x="623" y="501" width="1" height="7" fill="#000"/>
<rect x="628" y="501" width="31" height="1" fill="#000"/>
<rect x="628" y="507" width="31" height="1" fill="#000"/>
<rect x="628" y="501" width="1" height="7" fill="#000"/>
<rect x="658" y="501" width="1" height="7" fill="#000"/>
<rect x="667" y="501" width="30" height="1" fill="#000"/>
<rect x="667" y="507" width="30" height="1" fill="#000"/>
<rect x="667" y="501" width="1" height="7" fill="#000"/>
<rect x="696" y="501" width="1" height="7" fill="#000"/>
<rect x="703" y="501" width="30" height="1" fill="#000"/>
<rect x="703" y="507" width="30" height="1" fill="#000"/>
<rect x="703" y="501" width="1" height="7" fill="#000"/>
<rect x="732" y="501" width="1" height="7" fill="#000"/>
<rect x="739" y="501" width="31" height="1" fill="#000"/>
<rect x="739" y="507" width="31" height="1" fill="#000"/>
<rect x="739" y="501" width="1" height="7" fill="#000"/>
<rect x="769" y="501" width="1" height="7" fill="#000"/>
<rect x="772" y="501" width="16" height="1" fill="#000"/>
<rect x="772" y="507" width="16" height="1" fill="#000"/>
<rect x="772" y="501" width="1" height="7" fill="#000"/>
<rect x="787" y="501" width="1" height="7" fill="#000"/>
<rect x="575" y="484" width="4" height="17" fill="#000"/>
<rect x="575" y="508" width="4" height="17" fill="#000"/>
<rect x="782" y="484" width="4" height="17" fill="#000"/>
<rect x="782" y="508" width="4" height="17" fill="#000"/>
<rect x="579" y="486" width="10" height="1" fill="#000"/>
<rect x="772" y="486" width="10" height="1" fill="#000"/>
<rect x="588" y="486" width="1" height="10" fill="#000"/>
<rect x="772" y="486" width="1" height="10" fill="#000"/>
<rect x="586" y="495" width="3" height="1" fill="#000"/>
<rect x="772" y="495" width="3" height="1" fill="#000"/>
<rect x="585" y="493" width="1" height="8" fill="#000"/>
<rect x="775" y="493" width="1" height="8" fill="#000"/>
<rect x="579" y="500" width="7" height="1" fill="#000"/>
<rect x="775" y="500" width="7" height="1" fill="#000"/>
<rect x="581" y="493" width="5" height="1" fill="#000"/>
<rect x="775" y="493" width="5" height="1" fill="#000"/>
<rect x="581" y="493" width="1" height="3" fill="#000"/>
<rect x="779" y="493" width="1" height="3" fill="#000"/>
<rect x="579" y="495" width="3" height="1" fill="#000"/>
<rect x="779" y="495" width="3" height="1" fill="#000"/>
<rect x="579" y="509" width="10" height="1" fill="#000"/>
<rect x="772" y="509" width="10" height="1" fill="#000"/>
<rect x="588" y="509" width="1" height="10" fill="#000"/>
<rect x="772" y="509" width="1" height="10" fill="#000"/>
<rect x="586" y="518" width="3" height="1" fill="#000"/>
<rect x="772" y="518" width="3" height="1" fill="#000"/>
<rect x="585" y="516" width="1" height="8" fill="#000"/>
<rect x="775" y="516" width="1" height="8" fill="#000"/>
<rect x="579" y="523" width="7" height="1" fill="#000"/>
<rect x="775" y="523" width="7" height="1" fill="#000"/>
<rect x="581" y="516" width="5" height="1" fill="#000"/>
<rect x="775" y="516" width="5" height="1" fill="#000"/>
<rect x="581" y="516" width="1" height="3" fill="#000"/>
<rect x="779" y="516" width="1" height="3" fill="#000"/>
<rect x="579" y="518" width="3" height="1" fill="#000"/>
<rect x="779" y="518" width="3" height="1" fill="#000"/>
<rect x="579" y="524" width="203" height="1" fill="#000"/>
<rect x="568" y="487" width="7" height="1" fill="#000"/>
<rect x="786" y="487" width="6" height="1" fill="#000"/>
<rect x="568" y="494" width="7" height="1" fill="#000"/>
<rect x="786" y="494" width="6" height="1" fill="#000"/>
<rect x="568" y="510" width="7" height="1" fill="#000"/>
<rect x="786" y="510" width="6" height="1" fill="#000"/>
<rect x="568" y="517" width="7" height="1" fill="#000"/>
<rect x="786" y="517" width="6" height="1" fill="#000"/>
<rect x="568" y="524" width="7" height="1" fill="#000"/>
<rect x="786" y="524" width="6" height="1" fill="#000"/>
<rect x="593" y="527" width="175" height="14" fill="#000"/>
<rect x="596" y="529" width="4" height="5" fill="#fff"/>
<rect x="597" y="536" width="2" height="4" fill="#fff"/>
<rect x="602" y="529" width="4" height="5" fill="#fff"/>
<rect x="603" y="536" width="2" height="4" fill="#fff"/>
<rect x="608" y="529" width="4" height="5" fill="#fff"/>
<rect x="609" y="536" width="2" height="4" fill="#fff"/>
<rect x="614" y="529" width="4" height="5" fill="#fff"/>
<rect x="615" y="536" width="2" height="4" fill="#fff"/>
<rect x="620" y="529" width="4" height="5" fill="#fff"/>
<rect x="621" y="536" width="2" height="4" fill="#fff"/>
<rect x="625" y="529" width="4" height="5" fill="#fff"/>
<rect x="626" y="536" width="2" height="4" fill="#fff"/>
<rect x="631" y="529" width="4" height="5" fill="#fff"/>
<rect x="632" y="536" width="2" height="4" fill="#fff"/>
<rect x="637" y="529" width="4" height="5" fill="#fff"/>
<rect x="638" y="536" width="2" height="4" fill="#fff"/>
<rect x="643" y="529" width="4" height="5" fill="#fff"/>
<rect x="644" y="536" width="2" height="4" fill="#fff"/>
<rect x="649" y="529" width="4" height="5" fill="#fff"/>
<rect x="650" y="536" width="2" height="4" fill="#fff"/>
<rect x="655" y="529" width="4" height="5" fill="#fff"/>
<rect x="656" y="536" width="2" height="4" fill="#fff"/>
<rect x="661" y="529" width="4" height="5" fill="#fff"/>
<rect x="662" y="536" width="2" height="4" fill="#fff"/>
<rect x="667" y="529" width="4" height="5" fill="#fff"/>
<rect x="668" y="536" width="2" height="4" fill="#fff"/>
<rect x="673" y="529" width="4" height="5" fill="#fff"/>
<rect x="674" y="536" width="2" height="4" fill="#fff"/>
<rect x="679" y="529" width="4" height="5" fill="#fff"/>
<rect x="680" y="536" width="2" height="4" fill="#fff"/>
<rect x="684" y="529" width="4" height="5" fill="#fff"/>
<rect x="685" y="536" width="2" height="4" fill="#fff"/>
<rect x="690" y="529" width="4" height="5" fill="#fff"/>
<rect x="691" y="536" width="2" height="4" fill="#fff"/>
<rect x="696" y="529" width="4" height="5" fill="#fff"/>
<rect x="697" y="536" width="2" height="4" fill="#fff"/>
<rect x="702" y="529" width="4" height="5" fill="#fff"/>
<rect x="703" y="536" width="2" height="4" fill="#fff"/>
<rect x="708" y="529" width="4" height="5" fill="#fff"/>
<rect x="709" y="536" width="2" height="4" fill="#fff"/>
<rect x="714" y="529" width="4" height="5" fill="#fff"/>
<rect x="715" y="536" width="2" height="4" fill="#fff"/>
<rect x="720" y="529" width="4" height="5" fill="#fff"/>
<rect x="721" y="536" width="2" height="4" fill="#fff"/>
<rect x="726" y="529" width="4" height="5" fill="#fff"/>
<rect x="727" y="536" width="2" height="4" fill="#fff"/>
<rect x="732" y="529" width="4" height="5" fill="#fff"/>
<rect x="733" y="536" width="2" height="4" fill="#fff"/>
<rect x="737" y="529" width="4" height="5" fill="#fff"/>
<rect x="738" y="536" width="2" height="4" fill="#fff"/>
<rect x="743" y="529" width="4" height="5" fill="#fff"/>
<rect x="744" y="536" width="2" height="4" fill="#fff"/>
<rect x="749" y="529" width="4" height="5" fill="#fff"/>
<rect x="750" y="536" width="2" height="4" fill="#fff"/>
<rect x="755" y="529" width="4" height="5" fill="#fff"/>
<rect x="756" y="536" width="2" height="4" fill="#fff"/>
<rect x="761" y="529" width="4" height="5" fill="#fff"/>
<rect x="762" y="536" width="2" height="4" fill="#fff"/>
<rect x="593" y="550" width="175" height="14" fill="#000"/>
<rect x="596" y="552" width="4" height="5" fill="#fff"/>
<rect x="597" y="559" width="2" height="4" fill="#fff"/>
<rect x="602" y="552" width="4" height="5" fill="#fff"/>
<rect x="603" y="559" width="2" height="4" fill="#fff"/>
<rect x="608" y="552" width="4" height="5" fill="#fff"/>
<rect x="609" y="559" width="2" height="4" fill="#fff"/>
<rect x="614" y="552" width="4" height="5" fill="#fff"/>
<rect x="615" y="559" width="2" height="4" fill="#fff"/>
<rect x="620" y="552" width="4" height="5" fill="#fff"/>
<rect x="621" y="559" width="2" height="4" fill="#fff"/>
<rect x="625" y="552" width="4" height="5" fill="#fff"/>
<rect x="626" y="559" width="2" height="4" fill="#fff"/>
<rect x="631" y="552" width="4" height="5" fill="#fff"/>
<rect x="632" y="559" width="2" height="4" fill="#fff"/>
<rect x="637" y="552" width="4" height="5" fill="#fff"/>
<rect x="638" y="559" width="2" height="4" fill="#fff"/>
<rect x="643" y="552" width="4" height="5" fill="#fff"/>
<rect x="644" y="559" width="2" height="4" fill="#fff"/>
<rect x="649" y="552" width="4" height="5" fill="#fff"/>
<rect x="650" y="559" width="2" height="4" fill="#fff"/>
<rect x="655" y="552" width="4" height="5" fill="#fff"/>
<rect x="656" y="559" width="2" height="4" fill="#fff"/>
<rect x="661" y="552" width="4" height="5" fill="#fff"/>
<rect x="662" y="559" width="2" height="4" fill="#fff"/>
<rect x="667" y="552" width="4" height="5" fill="#fff"/>
<rect x="668" y="559" width="2" height="4" fill="#fff"/>
<rect x="673" y="552" width="4" height="5" fill="#fff"/>
<rect x="674" y="559" width="2" height="4" fill="#fff"/>
<rect x="679" y="552" width="4" height="5" fill="#fff"/>
<rect x="680" y="559" width="2" height="4" fill="#fff"/>
<rect x="684" y="552" width="4" height="5" fill="#fff"/>
<rect x="685" y="559" width="2" height="4" fill="#fff"/>
<rect x="690" y="552" width="4" height="5" fill="#fff"/>
<rect x="691" y="559" width="2" height="4" fill="#fff"/>
<rect x="696" y="552" width="4" height="5" fill="#fff"/>
<rect x="697" y="559" width="2" height="4" fill="#fff"/>
<rect x="702" y="552" width="4" height="5" fill="#fff"/>
<rect x="703" y="559" width="2" height="4" fill="#fff"/>
<rect x="708" y="552" width="4" height="5" fill="#fff"/>
<rect x="709" y="559" width="2" height="4" fill="#fff"/>
<rect x="714" y="552" width="4" height="5" fill="#fff"/>
<rect x="715" y="559" width="2" height="4" fill="#fff"/>
<rect x="720" y="552" width="4" height="5" fill="#fff"/>
<rect x="721" y="559" width="2" height="4" fill="#fff"/>
<rect x="726" y="552" width="4" height="5" fill="#fff"/>
<rect x="727" y="559" width="2" height="4" fill="#fff"/>
<rect x="732" y="552" width="4" height="5" fill="#fff"/>
<rect x="733" y="559" width="2" height="4" fill="#fff"/>
<rect x="737" y="552" width="4" height="5" fill="#fff"/>
<rect x="738" y="559" width="2" height="4" fill="#fff"/>
<rect x="743" y="552" width="4" height="5" fill="#fff"/>
<rect x="744" y="559" width="2" height="4" fill="#fff"/>
<rect x="749" y="552" width="4" height="5" fill="#fff"/>
<rect x="750" y="559" width="2" height="4" fill="#fff"/>
<rect x="755" y="552" width="4" height="5" fill="#fff"/>
<rect x="756" y="559" width="2" height="4" fill="#fff"/>
<rect x="761" y="552" width="4" height="5" fill="#fff"/>
<rect x="762" y="559" width="2" height="4" fill="#fff"/>
<rect x="576" y="543" width="14" height="1" fill="#000"/>
<rect x="576" y="549" width="14" height="1" fill="#000"/>
<rect x="576" y="543" width="1" height="7" fill="#000"/>
<rect x="589" y="543" width="1" height="7" fill="#000"/>
<rect x="593" y="543" width="31" height="1" fill="#000"/>
<rect x="593" y="549" width="31" height="1" fill="#000"/>
<rect x="593" y="543" width="1" height="7" fill="#000"/>
<rect x="623" y="543" width="1" height="7" fill="#000"/>
<rect x="628" y="543" width="31" height="1" fill="#000"/>
<rect x="628" y="549" width="31" height="1" fill="#000"/>
<rect x="628" y="543" width="1" height="7" fill="#000"/>
<rect x="658" y="543" width="1" height="7" fill="#000"/>
<rect x="667" y="543" width="30" height="1" fill="#000"/>
<rect x="667" y="549" width="30" height="1" fill="#000"/>
<rect x="667" y="543" width="1" height="7" fill="#000"/>
<rect x="696" y="543" width="1" height="7" fill="#000"/>
<rect x="703" y="543" width="30" height="1" fill="#000"/>
<rect x="703" y="549" width="30" height="1" fill="#000"/>
<rect x="703" y="543" width="1" height="7" fill="#000"/>
<rect x="732" y="543" width="1" height="7" fill="#000"/>
<rect x="739" y="543" width="31" height="1" fill="#000"/>
<rect x="739" y="549" width="31" height="1" fill="#000"/>
<rect x="739" y="543" width="1" height="7" fill="#000"/>
<rect x="769" y="543" width="1" height="7" fill="#000"/>
<rect x="772" y="543" width="16" height="1" fill="#000"/>
<rect x="772" y="549" width="16" height="1" fill="#000"/>
<rect x="772" y="543" width="1" height="7" fill="#000"/>
<rect x="787" y="543" width="1" height="7" fill="#000"/>
<rect x="575" y="525" width="4" height="17" fill="#000"/>
<rect x="575" y="549" width="4" height="18" fill="#000"/>
<rect x="782" y="525" width="4" height="17" fill="#000"/>
<rect x="782" y="549" width="4" height="18" fill="#000"/>
<rect x="579" y="527" width="10" height="1" fill="#000"/>
<rect x="772" y="527" width="10" height="1" fill="#000"/>
<rect x="588" y="527" width="1" height="10" fill="#000"/>
<rect x="772" y="527" width="1" height="10" fill="#000"/>
<rect x="586" y="536" width="3" height="1" fill="#000"/>
<rect x="772" y="536" width="3" height="1" fill="#000"/>
<rect x="585" y="534" width="1" height="8" fill="#000"/>
<rect x="775" y="534" width="1" height="8" fill="#000"/>
<rect x="579" y="541" width="7" height="1" fill="#000"/>
<rect x="775" y="541" width="7" height="1" fill="#000"/>
<rect x="581" y="534" width="5" height="1" fill="#000"/>
<rect x="775" y="534" width="5" height="1" fill="#000"/>
<rect x="581" y="534" width="1" height="3" fill="#000"/>
<rect x="779" y="534" width="1" height="3" fill="#000"/>
<rect x="579" y="536" width="3" height="1" fill="#000"/>
<rect x="779" y="536" width="3" height="1" fill="#000"/>
<rect x="579" y="550" width="10" height="1" fill="#000"/>
<rect x="772" y="550" width="10" height="1" fill="#000"/>
<rect x="588" y="550" width="1" height="10" fill="#000"/>
<rect x="772" y="550" width="1" height="10" fill="#000"/>
<rect x="586" y="559" width="3" height="1" fill="#000"/>
<rect x="772" y="559" width="3" height="1" fill="#000"/>
<rect x="585" y="557" width="1" height="8" fill="#000"/>
<rect x="775" y="557" width="1" height="8" fill="#000"/>
<rect x="579" y="564" width="7" height="1" fill="#000"/>
<rect x="775" y="564" width="7" height="1" fill="#000"/>
<rect x="581" y="557" width="5" height="1" fill="#000"/>
<rect x="775" y="557" width="5" height="1" fill="#000"/>
<rect x="581" y="557" width="1" height="3" fill="#000"/>
<rect x="779" y="557" width="1" height="3" fill="#000"/>
<rect x="579" y="559" width="3" height="1" fill="#000"/>
<rect x="779" y="559" width="3" height="1" fill="#000"/>
<rect x="579" y="566" width="203" height="1" fill="#000"/>
<rect x="568" y="528" width="7" height="1" fill="#000"/>
<rect x="786" y="528" width="6" height="1" fill="#000"/>
<rect x="568" y="535" width="7" height="1" fill="#000"/>
<rect x="786" y="535" width="6" height="1" fill="#000"/>
<rect x="568" y="551" width="7" height="1" fill="#000"/>
<rect x="786" y="551" width="6" height="1" fill="#000"/>
<rect x="568" y="558" width="7" height="1" fill="#000"/>
<rect x="786" y="558" width="6" height="1" fill="#000"/>
<rect x="568" y="566" width="7" height="1" fill="#000"/>
<rect x="786" y="566" width="6" height="1" fill="#000"/>
<rect x="593" y="569" width="175" height="14" fill="#000"/>
<rect x="596" y="571" width="4" height="5" fill="#fff"/>
<rect x="597" y="578" width="2" height="4" fill="#fff"/>
<rect x="602" y="571" width="4" height="5" fill="#fff"/>
<rect x="603" y="578" width="2" height="4" fill="#fff"/>
<rect x="608" y="571" width="4" height="5" fill="#fff"/>
<rect x="609" y="578" width="2" height="4" fill="#fff"/>
<rect x="614" y="571" width="4" height="5" fill="#fff"/>
<rect x="615" y="578" width="2" height="4" fill="#fff"/>
<rect x="620" y="571" width="4" height="5" fill="#fff"/>
<rect x="621" y="578" width="2" height="4" fill="#fff"/>
<rect x="625" y="571" width="4" height="5" fill="#fff"/>
<rect x="626" y="578" width="2" height="4" fill="#fff"/>
<rect x="631" y="571" width="4" height="5" fill="#fff"/>
<rect x="632" y="578" width="2" height="4" fill="#fff"/>
<rect x="637" y="571" width="4" height="5" fill="#fff"/>
<rect x="638" y="578" width="2" height="4" fill="#fff"/>
<rect x="643" y="571" width="4" height="5" fill="#fff"/>
<rect x="644" y="578" width="2" height="4" fill="#fff"/>
<rect x="649" y="571" width="4" height="5" fill="#fff"/>
<rect x="650" y="578" width="2" height="4" fill="#fff"/>
<rect x="655" y="571" width="4" height="5" fill="#fff"/>
<rect x="656" y="578" width="2" height="4" fill="#fff"/>
<rect x="661" y="571" width="4" height="5" fill="#fff"/>
<rect x="662" y="578" width="2" height="4" fill="#fff"/>
<rect x="667" y="571" width="4" height="5" fill="#fff"/>
<rect x="668" y="578" width="2" height="4" fill="#fff"/>
<rect x="673" y="571" width="4" height="5" fill="#fff"/>
<rect x="674" y="578" width="2" height="4" fill="#fff"/>
<rect x="679" y="571" width="4" height="5" fill="#fff"/>
<rect x="680" y="578" width="2" height="4" fill="#fff"/>
<rect x="684" y="571" width="4" height="5" fill="#fff"/>
<rect x="685" y="578" width="2" height="4" fill="#fff"/>
<rect x="690" y="571" width="4" height="5" fill="#fff"/>
<rect x="691" y="578" width="2" height="4" fill="#fff"/>
<rect x="696" y="571" width="4" height="5" fill="#fff"/>
<rect x="697" y="578" width="2" height="4" fill="#fff"/>
<rect x="702" y="571" width="4" height="5" fill="#fff"/>
<rect x="703" y="578" width="2" height="4" fill="#fff"/>
<rect x="708" y="571" width="4" height="5" fill="#fff"/>
<rect x="709" y="578" width="2" height="4" fill="#fff"/>
<rect x="714" y="571" width="4" height="5" fill="#fff"/>
<rect x="715" y="578" width="2" height="4" fill="#fff"/>
<rect x="720" y="571" width="4" height="5" fill="#fff"/>
<rect x="721" y="578" width="2" height="4" fill="#fff"/>
<rect x="726" y="571" width="4" height="5" fill="#fff"/>
<rect x="727" y="578" width="2" height="4" fill="#fff"/>
<rect x="732" y="571" width="4" height="5" fill="#fff"/>
<rect x="733" y="578" width="2" height="4" fill="#fff"/>
<rect x="737" y="571" width="4" height="5" fill="#fff"/>
<rect x="738" y="578" width="2" height="4" fill="#fff"/>
<rect x="743" y="571" width="4" height="5" fill="#fff"/>
<rect x="744" y="578" width="2" height="4" fill="#fff"/>
<rect x="749" y="571" width="4" height="5" fill="#fff"/>
<rect x="750" y="578" width="2" height="4" fill="#fff"/>
<rect x="755" y="571" width="4" height="5" fill="#fff"/>
<rect x="756" y="578" width="2" height="4" fill="#fff"/>
<rect x="761" y="571" width="4" height="5" fill="#fff"/>
<rect x="762" y="578" width="2" height="4" fill="#fff"/>
<rect x="593" y="592" width="175" height="14" fill="#000"/>
<rect x="596" y="594" width="4" height="5" fill="#fff"/>
<rect x="597" y="601" width="2" height="4" fill="#fff"/>
<rect x="602" y="594" width="4" height="5" fill="#fff"/>
<rect x="603" y="601" width="2" height="4" fill="#fff"/>
<rect x="608" y="594" width="4" height="5" fill="#fff"/>
<rect x="609" y="601" width="2" height="4" fill="#fff"/>
<rect x="614" y="594" width="4" height="5" fill="#fff"/>
<rect x="615" y="601" width="2" height="4" fill="#fff"/>
<rect x="620" y="594" width="4" height="5" fill="#fff"/>
<rect x="621" y="601" width="2" height="4" fill="#fff"/>
<rect x="625" y="594" width="4" height="5" fill="#fff"/>
<rect x="626" y="601" width="2" height="4" fill="#fff"/>
<rect x="631" y="594" width="4" height="5" fill="#fff"/>
<rect x="632" y="601" width="2" height="4" fill="#fff"/>
<rect x="637" y="594" width="4" height="5" fill="#fff"/>
<rect x="638" y="601" width="2" height="4" fill="#fff"/>
<rect x="643" y="594" width="4" height="5" fill="#fff"/>
<rect x="644" y="601" width="2" height="4" fill="#fff"/>
<rect x="649" y="594" width="4" height="5" fill="#fff"/>
<rect x="650" y="601" width="2" height="4" fill="#fff"/>
<rect x="655" y="594" width="4" height="5" fill="#fff"/>
<rect x="656" y="601" width="2" height="4" fill="#fff"/>
<rect x="661" y="594" width="4" height="5" fill="#fff"/>
<rect x="662" y="601" width="2" height="4" fill="#fff"/>
<rect x="667" y="594" width="4" height="5" fill="#fff"/>
<rect x="668" y="601" width="2" height="4" fill="#fff"/>
<rect x="673" y="594" width="4" height="5" fill="#fff"/>
<rect x="674" y="601" width="2" height="4" fill="#fff"/>
<rect x="679" y="594" width="4" height="5" fill="#fff"/>
<rect x="680" y="601" width="2" height="4" fill="#fff"/>
<rect x="684" y="594" width="4" height="5" fill="#fff"/>
<rect x="685" y="601" width="2" height="4" fill="#fff"/>
<rect x="690" y="594" width="4" height="5" fill="#fff"/>
<rect x="691" y="601" width="2" height="4" fill="#fff"/>
<rect x="696" y="594" width="4" height="5" fill="#fff"/>
<rect x="697" y="601" width="2" height="4" fill="#fff"/>
<rect x="702" y="594" width="4" height="5" fill="#fff"/>
<rect x="703" y="601" width="2" height="4" fill="#fff"/>
<rect x="708" y="594" width="4" height="5" fill="#fff"/>
<rect x="709" y="601" width="2" height="4" fill="#fff"/>
<rect x="714" y="594" width="4" height="5" fill="#fff"/>
<rect x="715" y="601" width="2" height="4" fill="#fff"/>
<rect x="720" y="594" width="4" height="5" fill="#fff"/>
<rect x="721" y="601" width="2" height="4" fill="#fff"/>
<rect x="726" y="594" width="4" height="5" fill="#fff"/>
<rect x="727" y="601" width="2" height="4" fill="#fff"/>
<rect x="732" y="594" width="4" height="5" fill="#fff"/>
<rect x="733" y="601" width="2" height="4" fill="#fff"/>
<rect x="737" y="594" width="4" height="5" fill="#fff"/>
<rect x="738" y="601" width="2" height="4" fill="#fff"/>
<rect x="743" y="594" width="4" height="5" fill="#fff"/>
<rect x="744" y="601" width="2" height="4" fill="#fff"/>
<rect x="749" y="594" width="4" height="5" fill="#fff"/>
<rect x="750" y="601" width="2" height="4" fill="#fff"/>
<rect x="755" y="594" width="4" height="5" fill="#fff"/>
<rect x="756" y="601" width="2" height="4" fill="#fff"/>
<rect x="761" y="594" width="4" height="5" fill="#fff"/>
<rect x="762" y="601" width="2" height="4" fill="#fff"/>
<rect x="576" y="584" width="14" height="1" fill="#000"/>
<rect x="576" y="590" width="14" height="1" fill="#000"/>
<rect x="576" y="584" width="1" height="7" fill="#000"/>
<rect x="589" y="584" width="1" height="7" fill="#000"/>
<rect x="593" y="584" width="31" height="1" fill="#000"/>
<rect x="593" y="590" width="31" height="1" fill="#000"/>
<rect x="593" y="584" width="1" height="7" fill="#000"/>
<rect x="623" y="584" width="1" height="7" fill="#000"/>
<rect x="628" y="584" width="31" height="1" fill="#000"/>
<rect x="628" y="590" width="31" height="1" fill="#000"/>
<rect x="628" y="584" width="1" height="7" fill="#000"/>
<rect x="658" y="584" width="1" height="7" fill="#000"/>
<rect x="667" y="584" width="30" height="1" fill="#000"/>
<rect x="667" y="590" width="30" height="1" fill="#000"/>
<rect x="667" y="584" width="1" height="7" fill="#000"/>
<rect x="696" y="584" width="1" height="7" fill="#000"/>
<rect x="703" y="584" width="30" height="1" fill="#000"/>
<rect x="703" y="590" width="30" height="1" fill="#000"/>
<rect x="703" y="584" width="1" height="7" fill="#000"/>
<rect x="732" y="584" width="1" height="7" fill="#000"/>
<rect x="739" y="584" width="31" height="1" fill="#000"/>
<rect x="739" y="590" width="31" height="1" fill="#000"/>
<rect x="739" y="584" width="1" height="7" fill="#000"/>
<rect x="769" y="584" width="1" height="7" fill="#000"/>
<rect x="772" y="584" width="16" height="1" fill="#000"/>
<rect x="772" y="590" width="16" height="1" fill="#000"/>
<rect x="772" y="584" width="1" height="7" fill="#000"/>
<rect x="787" y="584" width="1" height="7" fill="#000"/>
<rect x="575" y="567" width="4" height="17" fill="#000"/>
<rect x="575" y="591" width="4" height="18" fill="#000"/>
<rect x="782" y="567" width="4" height="17" fill="#000"/>
<rect x="782" y="591" width="4" height="18" fill="#000"/>
<rect x="579" y="569" width="10" height="1" fill="#000"/>
<rect x="772" y="569" width="10" height="1" fill="#000"/>
<rect x="588" y="569" width="1" height="10" fill="#000"/>
<rect x="772" y="569" width="1" height="10" fill="#000"/>
<rect x="586" y="578" width="3" height="1" fill="#000"/>
<rect x="772" y="578" width="3" height="1" fill="#000"/>
<rect x="585" y="576" width="1" height="8" fill="#000"/>
<rect x="775" y="576" width="1" height="8" fill="#000"/>
<rect x="579" y="583" width="7" height="1" fill="#000"/>
<rect x="775" y="583" width="7" height="1" fill="#000"/>
<rect x="581" y="576" width="5" height="1" fill="#000"/>
<rect x="775" y="576" width="5" height="1" fill="#000"/>
<rect x="581" y="576" width="1" height="3" fill="#000"/>
<rect x="779" y="576" width="1" height="3" fill="#000"/>
<rect x="579" y="578" width="3" height="1" fill="#000"/>
<rect x="779" y="578" width="3" height="1" fill="#000"/>
<rect x="579" y="592" width="10" height="1" fill="#000"/>
<rect x="772" y="592" width="10" height="1" fill="#000"/>
<rect x="588" y="592" width="1" height="10" fill="#000"/>
<rect x="772" y="592" width="1" height="10" fill="#000"/>
<rect x="586" y="601" width="3" height="1" fill="#000"/>
<rect x="772" y="601" width="3" height="1" fill="#000"/>
<rect x="585" y="599" width="1" height="8" fill="#000"/>
<rect x="775" y="599" width="1" height="8" fill="#000"/>
<rect x="579" y="606" width="7" height="1" fill="#000"/>
<rect x="775" y="606" width="7" height="1" fill="#000"/>
<rect x="581" y="599" width="5" height="1" fill="#000"/>
<rect x="775" y="599" width="5" height="1" fill="#000"/>
<rect x="581" y="599" width="1" height="3" fill="#000"/>
<rect x="779" y="599" width="1" height="3" fill="#000"/>
<rect x="579" y="601" width="3" height="1" fill="#000"/>
<rect x="779" y="601" width="3" height="1" fill="#000"/>
<rect x="568" y="570" width="7" height="1" fill="#000"/>
<rect x="786" y="570" width="6" height="1" fill="#000"/>
<rect x="568" y="577" width="7" height="1" fill="#000"/>
<rect x="786" y="577" width="6" height="1" fill="#000"/>
<rect x="568" y="593" width="7" height="1" fill="#000"/>
<rect x="786" y="593" width="6" height="1" fill="#000"/>
<rect x="568" y="600" width="7" height="1" fill="#000"/>
<rect x="786" y="600" width="6" height="1" fill="#000"/>
<rect x="651" y="474" width="59" height="20" fill="#000"/>
<rect x="653" y="477" width="55" height="14" fill="#fff"/>
<path d="M656.50,478.50 H660.50 L661.50,479.50 V481.50 L660.50,482.50 H656.50 M660.50,482.50 L661.50,483.50 V486.50 L660.50,487.50 H656.50 V478.50 M663.50,487.50 L666.50,478.50 L669.50,487.50 M664.50,484.50 H668.50 M672.50,487.50 V478.50 L677.50,487.50 V478.50 M681.50,478.50 V487.50 M687.50,478.50 L682.50,483.50 M683.50,482.50 L687.50,487.50 M697.50,480.50 L699.50,478.50 V487.50" fill="none" stroke="#000" stroke-width="1" stroke-linecap="square" stroke-linejoin="miter"/>
<rect x="651" y="557" width="59" height="20" fill="#000"/>
<rect x="653" y="560" width="55" height="14" fill="#fff"/>
<path d="M655.50,561.50 H659.50 L660.50,562.50 V564.50 L659.50,565.50 H655.50 M659.50,565.50 L660.50,566.50 V569.50 L659.50,570.50 H655.50 V561.50 M663.50,570.50 L666.50,561.50 L669.50,570.50 M664.50,567.50 H668.50 M672.50,570.50 V561.50 L677.50,570.50 V561.50 M680.50,561.50 V570.50 M686.50,561.50 L681.50,566.50 M682.50,565.50 L686.50,570.50 M697.50,561.50 L699.50,564.50 V567.50 L697.50,570.50 L695.50,567.50 V564.50 Z" fill="none" stroke="#000" stroke-width="1" stroke-linecap="square" stroke-linejoin="miter"/>
<rect x="815" y="484" width="31" height="37" fill="#000"/>
<rect x="840" y="479" width="6" height="46" fill="#000"/>
<rect x="842" y="477" width="4" height="50" fill="#000"/>
<rect x="813" y="490" width="2" height="24" fill="#000"/>
<rect x="809" y="492" width="5" height="1" fill="#000"/>
<rect x="809" y="500" width="5" height="1" fill="#000"/>
<rect x="809" y="492" width="1" height="9" fill="#000"/>
<rect x="813" y="492" width="1" height="9" fill="#000"/>
<rect x="809" y="503" width="5" height="1" fill="#000"/>
<rect x="809" y="511" width="5" height="1" fill="#000"/>
<rect x="809" y="503" width="1" height="9" fill="#000"/>
<rect x="813" y="503" width="1" height="9" fill="#000"/>
<rect x="814" y="492" width="1" height="8" fill="#fff"/>
<rect x="814" y="504" width="1" height="8" fill="#fff"/>
<rect x="814" y="500" width="2" height="3" fill="#fff"/>
<path d="M379,640 H435 L435,643 H441 V703 L437,706 H381 L379,704 H375 V645 L378,645 Z" fill="#000" />
<rect x="384" y="640" width="1" height="3" fill="#fff"/>
<rect x="387" y="640" width="1" height="3" fill="#fff"/>
<rect x="401" y="640" width="1" height="3" fill="#fff"/>
<rect x="404" y="640" width="1" height="3" fill="#fff"/>
<rect x="418" y="640" width="1" height="3" fill="#fff"/>
<rect x="421" y="640" width="1" height="3" fill="#fff"/>
<rect x="432" y="640" width="1" height="3" fill="#fff"/>
<rect x="385" y="703" width="1" height="3" fill="#fff"/>
<rect x="388" y="703" width="1" height="3" fill="#fff"/>
<rect x="391" y="703" width="1" height="3" fill="#fff"/>
<rect x="406" y="703" width="1" height="3" fill="#fff"/>
<rect x="420" y="703" width="1" height="3" fill="#fff"/>
<rect x="423" y="703" width="1" height="3" fill="#fff"/>
<rect x="426" y="703" width="1" height="3" fill="#fff"/>
<rect x="375" y="648" width="3" height="1" fill="#fff"/>
<rect x="375" y="651" width="3" height="1" fill="#fff"/>
<rect x="375" y="654" width="3" height="1" fill="#fff"/>
<rect x="375" y="665" width="3" height="1" fill="#fff"/>
<rect x="375" y="668" width="3" height="1" fill="#fff"/>
<rect x="375" y="671" width="3" height="1" fill="#fff"/>
<rect x="375" y="684" width="3" height="1" fill="#fff"/>
<rect x="375" y="687" width="3" height="1" fill="#fff"/>
<rect x="375" y="690" width="3" height="1" fill="#fff"/>
<rect x="438" y="657" width="3" height="1" fill="#fff"/>
<rect x="438" y="660" width="3" height="1" fill="#fff"/>
<rect x="438" y="663" width="3" height="1" fill="#fff"/>
<rect x="438" y="675" width="3" height="1" fill="#fff"/>
<rect x="438" y="678" width="3" height="1" fill="#fff"/>
<rect x="438" y="681" width="3" height="1" fill="#fff"/>
<rect x="438" y="691" width="3" height="1" fill="#fff"/>
<rect x="438" y="694" width="3" height="1" fill="#fff"/>
<rect x="438" y="697" width="3" height="1" fill="#fff"/>
<rect x="514" y="663" width="126" height="43" fill="#000"/>
<rect x="563" y="677" width="28" height="15" rx="2" fill="#fff"/>
<path d="M565.50,678.50 V687.50 M571.50,678.50 L566.50,683.50 M567.50,682.50 L571.50,687.50 M574.50,678.50 H578.50 L579.50,679.50 V681.50 L578.50,682.50 H574.50 M578.50,682.50 L579.50,683.50 V686.50 L578.50,687.50 H574.50 V678.50 M583.50,678.50 H586.50 L588.50,680.50 V685.50 L586.50,687.50 H583.50 Z" fill="none" stroke="#000" stroke-width="1" stroke-linecap="square" stroke-linejoin="miter"/>
<rect x="516" y="703" width="4" height="1" fill="#fff"/>
<rect x="523" y="703" width="4" height="1" fill="#fff"/>
<rect x="530" y="703" width="4" height="1" fill="#fff"/>
<rect x="537" y="703" width="4" height="1" fill="#fff"/>
<rect x="544" y="703" width="4" height="1" fill="#fff"/>
<rect x="551" y="703" width="4" height="1" fill="#fff"/>
<rect x="558" y="703" width="4" height="1" fill="#fff"/>
<rect x="565" y="703" width="4" height="1" fill="#fff"/>
<rect x="572" y="703" width="4" height="1" fill="#fff"/>
<rect x="579" y="703" width="4" height="1" fill="#fff"/>
<rect x="586" y="703" width="4" height="1" fill="#fff"/>
<rect x="593" y="703" width="4" height="1" fill="#fff"/>
<rect x="600" y="703" width="4" height="1" fill="#fff"/>
<rect x="607" y="703" width="4" height="1" fill="#fff"/>
<rect x="614" y="703" width="4" height="1" fill="#fff"/>
<rect x="621" y="703" width="4" height="1" fill="#fff"/>
<rect x="628" y="703" width="4" height="1" fill="#fff"/>
<rect x="635" y="703" width="4" height="1" fill="#fff"/>
<rect x="514" y="678" width="2" height="12" fill="#fff"/>
<rect x="685" y="675" width="76" height="39" fill="#000"/>
<path d="M709.00,681.00 H712.00 L714.00,682.56 V686.44 L712.00,688.00 H709.00 Z M717.00,688.00 L720.00,681.00 L723.00,688.00 M718.00,685.67 H722.00 M725.00,681.00 V688.00 H729.00 M732.00,681.00 V688.00 H736.00 M738.00,688.00 L741.00,681.00 L744.00,688.00 M739.00,685.67 H743.00 M752.00,681.78 L751.00,681.00 H748.00 L747.00,681.78 V683.33 L748.00,684.11 H751.00 L752.00,684.89 V687.22 L751.00,688.00 H748.00 L747.00,687.22" fill="none" stroke="#fff" stroke-width="2" stroke-linecap="square" stroke-linejoin="miter"/>
<path d="M709.00,692.00 H711.40 L713.00,693.33 V696.67 L711.40,698.00 H709.00 Z M721.00,692.67 L720.20,692.00 H717.80 L717.00,692.67 V694.00 L717.80,694.67 H720.20 L721.00,695.33 V697.33 L720.20,698.00 H717.80 L717.00,697.33 M724.00,693.33 L725.60,692.00 V698.00 M729.00,692.67 L729.80,692.00 H731.40 L732.20,692.67 V694.00 L729.00,697.33 V698.00 H732.20 M736.00,692.67 L736.80,692.00 H738.40 L739.20,692.67 V694.00 L736.00,697.33 V698.00 H739.20 M746.20,692.00 H743.00 V694.67 H745.40 L746.20,695.33 V697.33 L745.40,698.00 H743.80 L743.00,697.33" fill="none" stroke="#fff" stroke-width="2" stroke-linecap="square" stroke-linejoin="miter"/>
<path d="M709.00,708.00 V702.00 H712.20 L713.00,702.67 V704.00 L712.20,704.67 H709.00 M711.40,704.67 L713.00,708.00 M718.20,702.00 H715.00 V708.00 H718.20 M715.00,704.67 H717.40 M721.00,708.00 L723.40,702.00 L725.80,708.00 M721.80,706.00 H725.00 M728.00,702.00 V708.00 H731.20 M738.00,702.00 H742.80 M740.40,702.00 V708.00 M745.00,702.00 V708.00 M748.00,708.00 V702.00 L750.40,706.00 L752.80,702.00 V708.00 M758.20,702.00 H755.00 V708.00 H758.20 M755.00,704.67 H757.40" fill="none" stroke="#fff" stroke-width="2" stroke-linecap="square" stroke-linejoin="miter"/>
<circle cx="696.5" cy="694.5" r="8.5" fill="#fff" shape-rendering="auto"/>
<path d="M696.5,686 V695 M696,694.5 H705" stroke="#000" stroke-width="2" fill="none"/>
<path d="M688,684 L690,683 L693,683 L693,685 L690,687 L688,687 Z" fill="#fff"/>
<path d="M699,683 L703,683 L704,684 L704,687 L702,687 L699,685 Z" fill="#fff"/>
<path d="M692.5,701 L690,707 M700.5,701 L703,707" stroke="#fff" stroke-width="2.2" fill="none" shape-rendering="auto"/>
</svg></body></html>
